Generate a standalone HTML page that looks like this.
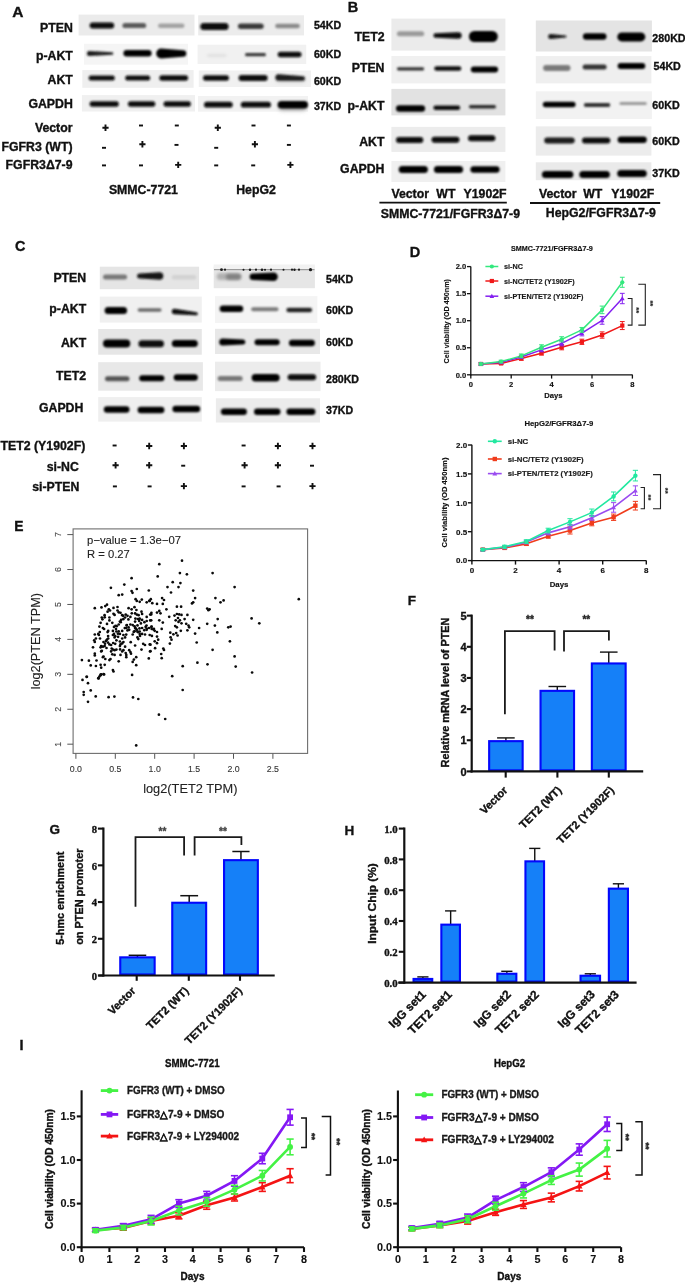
<!DOCTYPE html>
<html><head><meta charset="utf-8"><style>html,body{margin:0;padding:0;background:#fff;width:685px;height:1283px;overflow:hidden}svg{display:block;filter:blur(0.35px)}</style></head><body><svg width="685" height="1283" viewBox="0 0 685 1283">
<defs><filter id="b05" x="-10%" y="-30%" width="120%" height="160%"><feGaussianBlur stdDeviation="0.5"/></filter><filter id="b1" x="-20%" y="-100%" width="140%" height="300%"><feGaussianBlur stdDeviation="1.05"/></filter><filter id="b15" x="-20%" y="-100%" width="140%" height="300%"><feGaussianBlur stdDeviation="1.4"/></filter><filter id="b2" x="-20%" y="-100%" width="140%" height="300%"><feGaussianBlur stdDeviation="2"/></filter><filter id="t03"><feGaussianBlur stdDeviation="0.3"/></filter></defs>
<rect x="0.00" y="0.00" width="685.00" height="1283.00" fill="#fff"/>
<text x="12.30" y="17.05" font-size="15.5" text-anchor="start" font-weight="bold" font-family='"Liberation Sans", sans-serif' fill="#111" stroke="#111" stroke-width="0.35">A</text>
<text x="72.80" y="32.10" font-size="12.3" text-anchor="end" font-weight="bold" font-family='"Liberation Sans", sans-serif' fill="#111" stroke="#111" stroke-width="0.35">PTEN</text>
<text x="72.80" y="59.90" font-size="12.3" text-anchor="end" font-weight="bold" font-family='"Liberation Sans", sans-serif' fill="#111" stroke="#111" stroke-width="0.35">p-AKT</text>
<text x="72.80" y="83.80" font-size="12.3" text-anchor="end" font-weight="bold" font-family='"Liberation Sans", sans-serif' fill="#111" stroke="#111" stroke-width="0.35">AKT</text>
<text x="72.80" y="108.00" font-size="12.3" text-anchor="end" font-weight="bold" font-family='"Liberation Sans", sans-serif' fill="#111" stroke="#111" stroke-width="0.35">GAPDH</text>
<rect x="78.60" y="14.60" width="115.90" height="20.90" fill="#ebebeb" filter="url(#b05)"/>
<path d="M92.60,22.40 L111.20,22.40 A3.00,3.00 0 0 1 111.20,28.40 L92.60,28.40 A3.00,3.00 0 0 1 92.60,22.40 Z" fill="#0c0c0c" filter="url(#b1)"/>
<path d="M125.00,22.90 L143.60,22.90 A2.60,2.60 0 0 1 143.60,28.10 L125.00,28.10 A2.60,2.60 0 0 1 125.00,22.90 Z" fill="#5a5a5a" filter="url(#b1)"/>
<path d="M160.30,23.50 L182.20,23.50 A2.30,2.30 0 0 1 182.20,28.10 L160.30,28.10 A2.30,2.30 0 0 1 160.30,23.50 Z" fill="#a2a2a2" filter="url(#b1)"/>
<rect x="84.00" y="43.80" width="104.00" height="20.90" fill="#f5f5f5" filter="url(#b05)"/>
<path d="M89.40,50.90 L112.05,52.15 A1.25,1.25 0 0 1 112.05,54.65 L89.40,55.90 A2.50,2.50 0 0 1 89.40,50.90 Z" fill="#1a1a1a" filter="url(#b1)"/>
<path d="M126.65,50.05 L148.35,50.05 A3.25,3.25 0 0 1 148.35,56.55 L126.65,56.55 A3.25,3.25 0 0 1 126.65,50.05 Z" fill="#050505" filter="url(#b1)"/>
<path d="M161.20,48.50 L183.05,50.25 A3.25,3.25 0 0 1 183.05,56.75 L161.20,58.50 A5.00,5.00 0 0 1 161.20,48.50 Z" fill="#030303" filter="url(#b1)"/>
<rect x="82.30" y="70.10" width="111.30" height="17.70" fill="#efefef" filter="url(#b05)"/>
<path d="M91.20,75.60 L112.30,75.60 A2.50,2.50 0 0 1 112.30,80.60 L91.20,80.60 A2.50,2.50 0 0 1 91.20,75.60 Z" fill="#0e0e0e" filter="url(#b1)"/>
<path d="M127.70,75.60 L147.70,75.60 A2.50,2.50 0 0 1 147.70,80.60 L127.70,80.60 A2.50,2.50 0 0 1 127.70,75.60 Z" fill="#0e0e0e" filter="url(#b1)"/>
<path d="M162.05,75.35 L185.35,75.35 A2.75,2.75 0 0 1 185.35,80.85 L162.05,80.85 A2.75,2.75 0 0 1 162.05,75.35 Z" fill="#0e0e0e" filter="url(#b1)"/>
<rect x="81.90" y="95.10" width="113.10" height="16.40" fill="#f0f0f0" filter="url(#b05)"/>
<path d="M92.35,101.15 L116.05,101.15 A2.75,2.75 0 0 1 116.05,106.65 L92.35,106.65 A2.75,2.75 0 0 1 92.35,101.15 Z" fill="#0a0a0a" filter="url(#b1)"/>
<path d="M130.65,101.15 L152.55,101.15 A2.75,2.75 0 0 1 152.55,106.65 L130.65,106.65 A2.75,2.75 0 0 1 130.65,101.15 Z" fill="#0a0a0a" filter="url(#b1)"/>
<path d="M166.25,101.15 L188.15,101.15 A2.75,2.75 0 0 1 188.15,106.65 L166.25,106.65 A2.75,2.75 0 0 1 166.25,101.15 Z" fill="#0a0a0a" filter="url(#b1)"/>
<rect x="198.20" y="15.30" width="105.80" height="20.10" fill="#ececec" filter="url(#b05)"/>
<path d="M203.80,23.10 L225.10,23.10 A3.50,3.50 0 0 1 225.10,30.10 L203.80,30.10 A3.50,3.50 0 0 1 203.80,23.10 Z" fill="#080808" filter="url(#b1)"/>
<path d="M240.65,23.55 L260.95,23.55 A2.75,2.75 0 0 1 260.95,29.05 L240.65,29.05 A2.75,2.75 0 0 1 240.65,23.55 Z" fill="#3a3a3a" filter="url(#b1)"/>
<path d="M277.45,23.65 L297.55,23.65 A2.25,2.25 0 0 1 297.55,28.15 L277.45,28.15 A2.25,2.25 0 0 1 277.45,23.65 Z" fill="#8a8a8a" filter="url(#b1)"/>
<rect x="197.60" y="44.70" width="108.60" height="19.30" fill="#f1f1f1" filter="url(#b05)"/>
<path d="M208.25,54.25 L225.25,54.25 A1.25,1.25 0 0 1 225.25,56.75 L208.25,56.75 A1.25,1.25 0 0 1 208.25,54.25 Z" fill="#dcdcdc" filter="url(#b15)"/>
<path d="M246.60,53.10 L264.40,53.10 A1.60,1.60 0 0 1 264.40,56.30 L246.60,56.30 A1.60,1.60 0 0 1 246.60,53.10 Z" fill="#383838" filter="url(#b1)"/>
<path d="M280.45,51.85 L298.75,51.85 A2.75,2.75 0 0 1 298.75,57.35 L280.45,57.35 A2.75,2.75 0 0 1 280.45,51.85 Z" fill="#080808" filter="url(#b1)"/>
<rect x="198.80" y="70.50" width="112.20" height="16.50" fill="#f1f1f1" filter="url(#b05)"/>
<path d="M205.65,75.35 L226.35,75.35 A2.65,2.65 0 0 1 226.35,80.65 L205.65,80.65 A2.65,2.65 0 0 1 205.65,75.35 Z" fill="#0e0e0e" filter="url(#b1)"/>
<path d="M241.50,75.10 L264.80,75.10 A2.90,2.90 0 0 1 264.80,80.90 L241.50,80.90 A2.90,2.90 0 0 1 241.50,75.10 Z" fill="#0e0e0e" filter="url(#b1)"/>
<path d="M278.50,77.00 L302.50,77.00 A2.50,2.50 0 0 1 302.50,82.00 L278.50,82.00 A2.50,2.50 0 0 1 278.50,77.00 Z" fill="#c8c8c8" filter="url(#b2)"/>
<path d="M278.65,74.15 L302.75,76.15 A2.25,2.25 0 0 1 302.75,80.65 L278.65,80.65 A3.25,3.25 0 0 1 278.65,74.15 Z" fill="#1a1a1a" filter="url(#b1)"/>
<rect x="198.00" y="96.00" width="110.00" height="15.70" fill="#f2f2f2" filter="url(#b05)"/>
<path d="M206.90,101.80 L229.80,101.80 A2.90,2.90 0 0 1 229.80,107.60 L206.90,107.60 A2.90,2.90 0 0 1 206.90,101.80 Z" fill="#0a0a0a" filter="url(#b1)"/>
<path d="M243.70,101.80 L268.10,101.80 A2.90,2.90 0 0 1 268.10,107.60 L243.70,107.60 A2.90,2.90 0 0 1 243.70,101.80 Z" fill="#0a0a0a" filter="url(#b1)"/>
<path d="M282.00,104.50 L303.00,104.50 A3.00,3.00 0 0 1 303.00,110.50 L282.00,110.50 A3.00,3.00 0 0 1 282.00,104.50 Z" fill="#b0b0b0" filter="url(#b2)"/>
<path d="M281.35,100.95 L304.25,100.95 A3.75,3.75 0 0 1 304.25,108.45 L281.35,108.45 A3.75,3.75 0 0 1 281.35,100.95 Z" fill="#050505" filter="url(#b1)"/>
<text x="313.90" y="28.80" font-size="10.7" text-anchor="start" font-weight="bold" font-family='"Liberation Sans", sans-serif' fill="#111" textLength="27.2" lengthAdjust="spacingAndGlyphs" stroke="#111" stroke-width="0.35">54KD</text>
<text x="313.90" y="57.70" font-size="10.7" text-anchor="start" font-weight="bold" font-family='"Liberation Sans", sans-serif' fill="#111" textLength="27.2" lengthAdjust="spacingAndGlyphs" stroke="#111" stroke-width="0.35">60KD</text>
<text x="313.90" y="84.70" font-size="10.7" text-anchor="start" font-weight="bold" font-family='"Liberation Sans", sans-serif' fill="#111" textLength="27.2" lengthAdjust="spacingAndGlyphs" stroke="#111" stroke-width="0.35">60KD</text>
<text x="313.90" y="110.00" font-size="10.7" text-anchor="start" font-weight="bold" font-family='"Liberation Sans", sans-serif' fill="#111" textLength="27.2" lengthAdjust="spacingAndGlyphs" stroke="#111" stroke-width="0.35">37KD</text>
<text x="72.50" y="131.80" font-size="12.3" text-anchor="end" font-weight="bold" font-family='"Liberation Sans", sans-serif' fill="#111" stroke="#111" stroke-width="0.35">Vector</text>
<text x="72.50" y="150.80" font-size="12.3" text-anchor="end" font-weight="bold" font-family='"Liberation Sans", sans-serif' fill="#111" stroke="#111" stroke-width="0.35">FGFR3 (WT)</text>
<text x="72.50" y="169.30" font-size="12.3" text-anchor="end" font-weight="bold" font-family='"Liberation Sans", sans-serif' fill="#111" stroke="#111" stroke-width="0.35">FGFR3Δ7-9</text>
<path d="M102.40,126.85h6.2v1.9h-6.2z M104.55,124.60h1.9v6.4h-1.9z" fill="#111"/>
<rect x="139.00" y="124.55" width="4.0" height="1.9" fill="#111"/>
<rect x="174.80" y="124.55" width="4.0" height="1.9" fill="#111"/>
<path d="M214.70,126.75h6.2v1.9h-6.2z M216.85,124.50h1.9v6.4h-1.9z" fill="#111"/>
<rect x="251.50" y="124.55" width="4.0" height="1.9" fill="#111"/>
<rect x="286.90" y="124.55" width="4.0" height="1.9" fill="#111"/>
<rect x="102.00" y="146.85" width="4.0" height="1.9" fill="#111"/>
<path d="M139.30,143.25h6.2v1.9h-6.2z M141.45,141.00h1.9v6.4h-1.9z" fill="#111"/>
<rect x="174.50" y="143.95" width="4.0" height="1.9" fill="#111"/>
<rect x="214.20" y="146.85" width="4.0" height="1.9" fill="#111"/>
<path d="M251.80,143.25h6.2v1.9h-6.2z M253.95,141.00h1.9v6.4h-1.9z" fill="#111"/>
<rect x="286.90" y="143.95" width="4.0" height="1.9" fill="#111"/>
<rect x="102.00" y="164.45" width="4.0" height="1.9" fill="#111"/>
<rect x="139.00" y="164.45" width="4.0" height="1.9" fill="#111"/>
<path d="M175.10,163.95h6.2v1.9h-6.2z M177.25,161.70h1.9v6.4h-1.9z" fill="#111"/>
<rect x="214.20" y="164.45" width="4.0" height="1.9" fill="#111"/>
<rect x="251.20" y="164.45" width="4.0" height="1.9" fill="#111"/>
<path d="M287.30,163.95h6.2v1.9h-6.2z M289.45,161.70h1.9v6.4h-1.9z" fill="#111"/>
<text x="143.40" y="193.80" font-size="12.3" text-anchor="middle" font-weight="bold" font-family='"Liberation Sans", sans-serif' fill="#111" stroke="#111" stroke-width="0.35">SMMC-7721</text>
<text x="256.00" y="193.80" font-size="12.3" text-anchor="middle" font-weight="bold" font-family='"Liberation Sans", sans-serif' fill="#111" stroke="#111" stroke-width="0.35">HepG2</text>
<text x="347.80" y="11.49" font-size="14.5" text-anchor="start" font-weight="bold" font-family='"Liberation Sans", sans-serif' fill="#111" stroke="#111" stroke-width="0.35">B</text>
<text x="384.50" y="41.20" font-size="12.3" text-anchor="end" font-weight="bold" font-family='"Liberation Sans", sans-serif' fill="#111" stroke="#111" stroke-width="0.35">TET2</text>
<text x="384.50" y="71.60" font-size="12.3" text-anchor="end" font-weight="bold" font-family='"Liberation Sans", sans-serif' fill="#111" stroke="#111" stroke-width="0.35">PTEN</text>
<text x="384.50" y="109.90" font-size="12.3" text-anchor="end" font-weight="bold" font-family='"Liberation Sans", sans-serif' fill="#111" stroke="#111" stroke-width="0.35">p-AKT</text>
<text x="384.50" y="145.70" font-size="12.3" text-anchor="end" font-weight="bold" font-family='"Liberation Sans", sans-serif' fill="#111" stroke="#111" stroke-width="0.35">AKT</text>
<text x="384.50" y="173.20" font-size="12.3" text-anchor="end" font-weight="bold" font-family='"Liberation Sans", sans-serif' fill="#111" stroke="#111" stroke-width="0.35">GAPDH</text>
<rect x="391.40" y="18.60" width="114.00" height="32.00" fill="#ebebeb" filter="url(#b05)"/>
<path d="M399.40,31.30 L421.70,31.30 A2.50,2.50 0 0 1 421.70,36.30 L399.40,36.30 A2.50,2.50 0 0 1 399.40,31.30 Z" fill="#9a9a9a" filter="url(#b1)"/>
<path d="M435.65,33.35 L458.35,32.35 A3.25,3.25 0 0 1 458.35,38.85 L435.65,37.85 A2.25,2.25 0 0 1 435.65,33.35 Z" fill="#0a0a0a" filter="url(#b1)"/>
<path d="M474.40,31.00 L492.30,31.00 A5.50,5.50 0 0 1 492.30,42.00 L474.40,42.00 A5.50,5.50 0 0 1 474.40,31.00 Z" fill="#030303" filter="url(#b1)"/>
<rect x="391.40" y="56.00" width="114.00" height="27.40" fill="#f0f0f0" filter="url(#b05)"/>
<path d="M398.50,67.20 L422.60,67.20 A1.60,1.60 0 0 1 422.60,70.40 L398.50,70.40 A1.60,1.60 0 0 1 398.50,67.20 Z" fill="#333" filter="url(#b1)"/>
<path d="M436.55,66.25 L459.05,66.25 A2.25,2.25 0 0 1 459.05,70.75 L436.55,70.75 A2.25,2.25 0 0 1 436.55,66.25 Z" fill="#111" filter="url(#b1)"/>
<path d="M473.80,66.40 L495.10,66.40 A3.00,3.00 0 0 1 495.10,72.40 L473.80,72.40 A3.00,3.00 0 0 1 473.80,66.40 Z" fill="#050505" filter="url(#b1)"/>
<rect x="391.40" y="88.90" width="114.00" height="26.50" fill="#e2e2e2" filter="url(#b05)"/>
<path d="M399.25,105.15 L421.85,105.15 A3.25,3.25 0 0 1 421.85,111.65 L399.25,111.65 A3.25,3.25 0 0 1 399.25,105.15 Z" fill="#050505" filter="url(#b1)"/>
<path d="M435.65,105.45 L457.95,105.45 A2.25,2.25 0 0 1 457.95,109.95 L435.65,109.95 A2.25,2.25 0 0 1 435.65,105.45 Z" fill="#111" filter="url(#b1)"/>
<path d="M470.65,105.05 L494.25,105.05 A1.75,1.75 0 0 1 494.25,108.55 L470.65,108.55 A1.75,1.75 0 0 1 470.65,105.05 Z" fill="#2a2a2a" filter="url(#b1)"/>
<rect x="391.40" y="126.90" width="114.00" height="25.00" fill="#ececec" filter="url(#b05)"/>
<path d="M399.00,137.00 L420.30,137.00 A3.00,3.00 0 0 1 420.30,143.00 L399.00,143.00 A3.00,3.00 0 0 1 399.00,137.00 Z" fill="#080808" filter="url(#b1)"/>
<path d="M434.50,136.70 L456.50,136.70 A3.00,3.00 0 0 1 456.50,142.70 L434.50,142.70 A3.00,3.00 0 0 1 434.50,136.70 Z" fill="#080808" filter="url(#b1)"/>
<path d="M471.00,135.20 L492.40,135.20 A3.00,3.00 0 0 1 492.40,141.20 L471.00,141.20 A3.00,3.00 0 0 1 471.00,135.20 Z" fill="#080808" filter="url(#b1)"/>
<rect x="391.40" y="161.00" width="114.00" height="21.00" fill="#f0f0f0" filter="url(#b05)"/>
<path d="M402.20,166.10 L424.40,166.10 A3.50,3.50 0 0 1 424.40,173.10 L402.20,173.10 A3.50,3.50 0 0 1 402.20,166.10 Z" fill="#050505" filter="url(#b1)"/>
<path d="M437.40,166.10 L459.60,166.10 A3.50,3.50 0 0 1 459.60,173.10 L437.40,173.10 A3.50,3.50 0 0 1 437.40,166.10 Z" fill="#050505" filter="url(#b1)"/>
<path d="M473.65,166.35 L496.35,166.35 A3.25,3.25 0 0 1 496.35,172.85 L473.65,172.85 A3.25,3.25 0 0 1 473.65,166.35 Z" fill="#050505" filter="url(#b1)"/>
<rect x="535.80" y="20.50" width="116.10" height="31.00" fill="#e4e4e4" filter="url(#b05)"/>
<path d="M550.70,34.00 L565.40,35.40 A1.10,1.10 0 0 1 565.40,37.60 L550.70,39.00 A2.50,2.50 0 0 1 550.70,34.00 Z" fill="#161616" filter="url(#b1)"/>
<path d="M586.15,33.25 L603.25,33.25 A3.25,3.25 0 0 1 603.25,39.75 L586.15,39.75 A3.25,3.25 0 0 1 586.15,33.25 Z" fill="#050505" filter="url(#b1)"/>
<path d="M621.80,32.40 L640.80,32.40 A4.50,4.50 0 0 1 640.80,41.40 L621.80,41.40 A4.50,4.50 0 0 1 621.80,32.40 Z" fill="#030303" filter="url(#b1)"/>
<rect x="535.80" y="56.10" width="115.60" height="27.30" fill="#efefef" filter="url(#b05)"/>
<path d="M546.10,64.90 L567.50,64.90 A3.00,3.00 0 0 1 567.50,70.90 L546.10,70.90 A3.00,3.00 0 0 1 546.10,64.90 Z" fill="#7a7a7a" filter="url(#b1)"/>
<path d="M585.10,64.50 L604.10,64.50 A2.50,2.50 0 0 1 604.10,69.50 L585.10,69.50 A2.50,2.50 0 0 1 585.10,64.50 Z" fill="#333" filter="url(#b1)"/>
<path d="M620.60,63.10 L642.30,63.10 A3.00,3.00 0 0 1 642.30,69.10 L620.60,69.10 A3.00,3.00 0 0 1 620.60,63.10 Z" fill="#050505" filter="url(#b1)"/>
<rect x="535.80" y="91.30" width="116.10" height="27.70" fill="#f2f2f2" filter="url(#b05)"/>
<path d="M545.55,101.65 L572.85,101.65 A2.75,2.75 0 0 1 572.85,107.15 L545.55,107.15 A2.75,2.75 0 0 1 545.55,101.65 Z" fill="#050505" filter="url(#b1)"/>
<path d="M585.80,103.00 L608.30,103.00 A2.00,2.00 0 0 1 608.30,107.00 L585.80,107.00 A2.00,2.00 0 0 1 585.80,103.00 Z" fill="#333" filter="url(#b1)"/>
<path d="M620.90,102.00 L645.30,102.00 A1.50,1.50 0 0 1 645.30,105.00 L620.90,105.00 A1.50,1.50 0 0 1 620.90,102.00 Z" fill="#999" filter="url(#b1)"/>
<rect x="535.80" y="126.40" width="115.60" height="29.20" fill="#ececec" filter="url(#b05)"/>
<path d="M547.20,137.40 L571.70,137.40 A3.00,3.00 0 0 1 571.70,143.40 L547.20,143.40 A3.00,3.00 0 0 1 547.20,137.40 Z" fill="#1a1a1a" filter="url(#b1)"/>
<path d="M585.00,137.40 L607.30,137.40 A3.00,3.00 0 0 1 607.30,143.40 L585.00,143.40 A3.00,3.00 0 0 1 585.00,137.40 Z" fill="#111" filter="url(#b1)"/>
<path d="M620.85,136.45 L643.55,136.45 A3.25,3.25 0 0 1 643.55,142.95 L620.85,142.95 A3.25,3.25 0 0 1 620.85,136.45 Z" fill="#050505" filter="url(#b1)"/>
<rect x="535.80" y="162.30" width="115.60" height="17.90" fill="#eaeaea" filter="url(#b05)"/>
<path d="M545.40,170.90 L569.90,170.90 A3.50,3.50 0 0 1 569.90,177.90 L545.40,177.90 A3.50,3.50 0 0 1 545.40,170.90 Z" fill="#050505" filter="url(#b1)"/>
<path d="M582.80,170.90 L606.40,170.90 A3.50,3.50 0 0 1 606.40,177.90 L582.80,177.90 A3.50,3.50 0 0 1 582.80,170.90 Z" fill="#050505" filter="url(#b1)"/>
<path d="M620.70,170.00 L643.30,170.00 A3.50,3.50 0 0 1 643.30,177.00 L620.70,177.00 A3.50,3.50 0 0 1 620.70,170.00 Z" fill="#050505" filter="url(#b1)"/>
<text x="652.30" y="41.83" font-size="10.7" text-anchor="start" font-weight="bold" font-family='"Liberation Sans", sans-serif' fill="#111" stroke="#111" stroke-width="0.35">280KD</text>
<text x="653.50" y="70.13" font-size="10.7" text-anchor="start" font-weight="bold" font-family='"Liberation Sans", sans-serif' fill="#111" stroke="#111" stroke-width="0.35">54KD</text>
<text x="652.30" y="109.13" font-size="10.7" text-anchor="start" font-weight="bold" font-family='"Liberation Sans", sans-serif' fill="#111" stroke="#111" stroke-width="0.35">60KD</text>
<text x="652.30" y="144.83" font-size="10.7" text-anchor="start" font-weight="bold" font-family='"Liberation Sans", sans-serif' fill="#111" stroke="#111" stroke-width="0.35">60KD</text>
<text x="652.30" y="176.63" font-size="10.7" text-anchor="start" font-weight="bold" font-family='"Liberation Sans", sans-serif' fill="#111" stroke="#111" stroke-width="0.35">37KD</text>
<text x="410.20" y="197.70" font-size="12.3" text-anchor="middle" font-weight="bold" font-family='"Liberation Sans", sans-serif' fill="#111" stroke="#111" stroke-width="0.35">Vector</text>
<text x="445.90" y="197.70" font-size="12.3" text-anchor="middle" font-weight="bold" font-family='"Liberation Sans", sans-serif' fill="#111" stroke="#111" stroke-width="0.35">WT</text>
<text x="485.10" y="197.70" font-size="12.3" text-anchor="middle" font-weight="bold" font-family='"Liberation Sans", sans-serif' fill="#111" stroke="#111" stroke-width="0.35">Y1902F</text>
<text x="557.80" y="197.70" font-size="12.3" text-anchor="middle" font-weight="bold" font-family='"Liberation Sans", sans-serif' fill="#111" stroke="#111" stroke-width="0.35">Vector</text>
<text x="592.80" y="197.70" font-size="12.3" text-anchor="middle" font-weight="bold" font-family='"Liberation Sans", sans-serif' fill="#111" stroke="#111" stroke-width="0.35">WT</text>
<text x="632.70" y="197.70" font-size="12.3" text-anchor="middle" font-weight="bold" font-family='"Liberation Sans", sans-serif' fill="#111" stroke="#111" stroke-width="0.35">Y1902F</text>
<line x1="379.40" y1="202.60" x2="506.80" y2="202.60" stroke="#111" stroke-width="1.8"/>
<line x1="530.00" y1="203.00" x2="660.20" y2="203.00" stroke="#111" stroke-width="1.8"/>
<text x="380.70" y="217.90" font-size="12.3" text-anchor="start" font-weight="bold" font-family='"Liberation Sans", sans-serif' fill="#111" stroke="#111" stroke-width="0.35">SMMC-7721/FGFR3Δ7-9</text>
<text x="545.80" y="216.80" font-size="12.3" text-anchor="start" font-weight="bold" font-family='"Liberation Sans", sans-serif' fill="#111" stroke="#111" stroke-width="0.35">HepG2/FGFR3Δ7-9</text>
<text x="15.00" y="251.36" font-size="14.4" text-anchor="start" font-weight="bold" font-family='"Liberation Sans", sans-serif' fill="#111" stroke="#111" stroke-width="0.35">C</text>
<text x="86.20" y="281.60" font-size="12.3" text-anchor="end" font-weight="bold" font-family='"Liberation Sans", sans-serif' fill="#111" stroke="#111" stroke-width="0.35">PTEN</text>
<text x="86.20" y="313.40" font-size="12.3" text-anchor="end" font-weight="bold" font-family='"Liberation Sans", sans-serif' fill="#111" stroke="#111" stroke-width="0.35">p-AKT</text>
<text x="86.20" y="346.80" font-size="12.3" text-anchor="end" font-weight="bold" font-family='"Liberation Sans", sans-serif' fill="#111" stroke="#111" stroke-width="0.35">AKT</text>
<text x="86.20" y="380.30" font-size="12.3" text-anchor="end" font-weight="bold" font-family='"Liberation Sans", sans-serif' fill="#111" stroke="#111" stroke-width="0.35">TET2</text>
<text x="83.40" y="412.10" font-size="12.3" text-anchor="end" font-weight="bold" font-family='"Liberation Sans", sans-serif' fill="#111" stroke="#111" stroke-width="0.35">GAPDH</text>
<rect x="99.80" y="266.70" width="99.30" height="22.50" fill="#e5e5e5" filter="url(#b05)"/>
<path d="M105.50,274.40 L124.60,274.40 A2.50,2.50 0 0 1 124.60,279.40 L105.50,279.40 A2.50,2.50 0 0 1 105.50,274.40 Z" fill="#777" filter="url(#b1)"/>
<path d="M139.60,273.60 L159.55,272.35 A3.75,3.75 0 0 1 159.55,279.85 L139.60,278.60 A2.50,2.50 0 0 1 139.60,273.60 Z" fill="#151515" filter="url(#b1)"/>
<path d="M174.05,275.05 L193.95,275.05 A2.25,2.25 0 0 1 193.95,279.55 L174.05,279.55 A2.25,2.25 0 0 1 174.05,275.05 Z" fill="#d2d2d2" filter="url(#b1)"/>
<rect x="99.80" y="296.60" width="102.00" height="26.00" fill="#f0f0f0" filter="url(#b05)"/>
<path d="M108.10,307.10 L123.60,307.10 A3.50,3.50 0 0 1 123.60,314.10 L108.10,314.10 A3.50,3.50 0 0 1 108.10,307.10 Z" fill="#030303" filter="url(#b1)"/>
<path d="M139.35,308.35 L159.85,308.35 A1.75,1.75 0 0 1 159.85,311.85 L139.35,311.85 A1.75,1.75 0 0 1 139.35,308.35 Z" fill="#6a6a6a" filter="url(#b1)"/>
<path d="M174.55,308.65 L196.30,312.30 A1.50,1.50 0 0 1 196.30,315.30 L174.55,314.15 A2.75,2.75 0 0 1 174.55,308.65 Z" fill="#080808" filter="url(#b1)"/>
<rect x="98.20" y="329.00" width="103.60" height="25.70" fill="#e6e6e6" filter="url(#b05)"/>
<path d="M107.00,339.50 L126.30,339.50 A4.00,4.00 0 0 1 126.30,347.50 L107.00,347.50 A4.00,4.00 0 0 1 107.00,339.50 Z" fill="#030303" filter="url(#b1)"/>
<path d="M141.90,340.30 L160.50,340.30 A3.50,3.50 0 0 1 160.50,347.30 L141.90,347.30 A3.50,3.50 0 0 1 141.90,340.30 Z" fill="#111" filter="url(#b1)"/>
<path d="M175.30,340.00 L194.30,340.00 A3.50,3.50 0 0 1 194.30,347.00 L175.30,347.00 A3.50,3.50 0 0 1 175.30,340.00 Z" fill="#050505" filter="url(#b1)"/>
<rect x="98.20" y="362.20" width="104.70" height="28.50" fill="#e8e8e8" filter="url(#b05)"/>
<path d="M107.50,376.30 L127.00,376.30 A2.50,2.50 0 0 1 127.00,381.30 L107.50,381.30 A2.50,2.50 0 0 1 107.50,376.30 Z" fill="#555" filter="url(#b1)"/>
<path d="M142.20,375.30 L161.40,375.30 A3.00,3.00 0 0 1 161.40,381.30 L142.20,381.30 A3.00,3.00 0 0 1 142.20,375.30 Z" fill="#050505" filter="url(#b1)"/>
<path d="M176.95,374.25 L194.55,374.25 A3.25,3.25 0 0 1 194.55,380.75 L176.95,380.75 A3.25,3.25 0 0 1 176.95,374.25 Z" fill="#050505" filter="url(#b1)"/>
<rect x="98.20" y="397.10" width="103.60" height="24.50" fill="#efefef" filter="url(#b05)"/>
<path d="M107.05,406.35 L126.25,406.35 A3.25,3.25 0 0 1 126.25,412.85 L107.05,412.85 A3.25,3.25 0 0 1 107.05,406.35 Z" fill="#050505" filter="url(#b1)"/>
<path d="M140.85,406.75 L161.15,406.75 A3.25,3.25 0 0 1 161.15,413.25 L140.85,413.25 A3.25,3.25 0 0 1 140.85,406.75 Z" fill="#050505" filter="url(#b1)"/>
<path d="M175.65,405.75 L196.95,405.75 A3.25,3.25 0 0 1 196.95,412.25 L175.65,412.25 A3.25,3.25 0 0 1 175.65,405.75 Z" fill="#050505" filter="url(#b1)"/>
<rect x="213.70" y="266.50" width="101.20" height="21.70" fill="#e6e6e6" filter="url(#b05)"/>
<rect x="213.7" y="264.5" width="101.2" height="4.5" fill="#f2f2f2" filter="url(#b05)"/>
<rect x="214" y="269.2" width="100.5" height="1.0" fill="#8a8a8a" filter="url(#b05)"/>
<circle cx="221.5" cy="269.7" r="1.4" fill="#1a1a1a" filter="url(#b05)"/>
<circle cx="225" cy="269.7" r="1.1" fill="#1a1a1a" filter="url(#b05)"/>
<circle cx="243.5" cy="269.7" r="1.0" fill="#1a1a1a" filter="url(#b05)"/>
<circle cx="250" cy="269.7" r="1.2" fill="#1a1a1a" filter="url(#b05)"/>
<circle cx="256" cy="269.7" r="1.1" fill="#1a1a1a" filter="url(#b05)"/>
<circle cx="262" cy="269.7" r="1.3" fill="#1a1a1a" filter="url(#b05)"/>
<circle cx="265" cy="269.7" r="1.0" fill="#1a1a1a" filter="url(#b05)"/>
<circle cx="271" cy="269.7" r="1.1" fill="#1a1a1a" filter="url(#b05)"/>
<circle cx="283.5" cy="269.7" r="1.0" fill="#1a1a1a" filter="url(#b05)"/>
<circle cx="292" cy="269.7" r="1.1" fill="#1a1a1a" filter="url(#b05)"/>
<circle cx="294.5" cy="269.7" r="1.2" fill="#1a1a1a" filter="url(#b05)"/>
<circle cx="299" cy="269.7" r="1.1" fill="#1a1a1a" filter="url(#b05)"/>
<circle cx="310.5" cy="269.7" r="1.6" fill="#1a1a1a" filter="url(#b05)"/>
<path d="M220.20,273.00 L237.50,273.00 A3.50,3.50 0 0 1 237.50,280.00 L220.20,280.00 A3.50,3.50 0 0 1 220.20,273.00 Z" fill="#b0b0b0" filter="url(#b15)"/>
<path d="M228.75,274.05 L238.25,274.05 A2.75,2.75 0 0 1 238.25,279.55 L228.75,279.55 A2.75,2.75 0 0 1 228.75,274.05 Z" fill="#808080" filter="url(#b15)"/>
<path d="M252.85,273.55 L273.55,272.55 A4.25,4.25 0 0 1 273.55,281.05 L252.85,280.05 A3.25,3.25 0 0 1 252.85,273.55 Z" fill="#050505" filter="url(#b1)"/>
<rect x="215.00" y="296.10" width="102.40" height="26.90" fill="#f4f4f4" filter="url(#b05)"/>
<path d="M222.95,305.45 L239.95,305.45 A3.25,3.25 0 0 1 239.95,311.95 L222.95,311.95 A3.25,3.25 0 0 1 222.95,305.45 Z" fill="#030303" filter="url(#b1)"/>
<path d="M253.10,307.20 L276.50,307.20 A2.00,2.00 0 0 1 276.50,311.20 L253.10,311.20 A2.00,2.00 0 0 1 253.10,307.20 Z" fill="#7a7a7a" filter="url(#b1)"/>
<path d="M288.65,307.75 L309.85,307.75 A2.25,2.25 0 0 1 309.85,312.25 L288.65,312.25 A2.25,2.25 0 0 1 288.65,307.75 Z" fill="#222" filter="url(#b1)"/>
<rect x="215.00" y="328.80" width="105.00" height="25.20" fill="#e8e8e8" filter="url(#b05)"/>
<path d="M222.70,338.40 L242.80,339.40 A2.50,2.50 0 0 1 242.80,344.40 L222.70,345.40 A3.50,3.50 0 0 1 222.70,338.40 Z" fill="#050505" filter="url(#b1)"/>
<path d="M257.50,339.30 L276.70,339.30 A3.00,3.00 0 0 1 276.70,345.30 L257.50,345.30 A3.00,3.00 0 0 1 257.50,339.30 Z" fill="#050505" filter="url(#b1)"/>
<path d="M292.15,339.85 L311.65,339.85 A3.25,3.25 0 0 1 311.65,346.35 L292.15,346.35 A3.25,3.25 0 0 1 292.15,339.85 Z" fill="#050505" filter="url(#b1)"/>
<rect x="215.00" y="361.70" width="105.50" height="29.40" fill="#ececec" filter="url(#b05)"/>
<path d="M220.10,376.00 L240.20,376.00 A2.50,2.50 0 0 1 240.20,381.00 L220.10,381.00 A2.50,2.50 0 0 1 220.10,376.00 Z" fill="#777" filter="url(#b1)"/>
<path d="M255.35,373.95 L275.95,373.95 A3.75,3.75 0 0 1 275.95,381.45 L255.35,381.45 A3.75,3.75 0 0 1 255.35,373.95 Z" fill="#030303" filter="url(#b1)"/>
<path d="M290.60,374.20 L313.10,374.20 A3.00,3.00 0 0 1 313.10,380.20 L290.60,380.20 A3.00,3.00 0 0 1 290.60,374.20 Z" fill="#080808" filter="url(#b1)"/>
<rect x="215.90" y="398.30" width="104.10" height="24.20" fill="#ececec" filter="url(#b05)"/>
<path d="M224.15,408.45 L243.65,408.45 A3.25,3.25 0 0 1 243.65,414.95 L224.15,414.95 A3.25,3.25 0 0 1 224.15,408.45 Z" fill="#050505" filter="url(#b1)"/>
<path d="M257.25,408.45 L277.25,408.45 A3.25,3.25 0 0 1 277.25,414.95 L257.25,414.95 A3.25,3.25 0 0 1 257.25,408.45 Z" fill="#050505" filter="url(#b1)"/>
<path d="M289.65,408.45 L312.15,408.45 A3.25,3.25 0 0 1 312.15,414.95 L289.65,414.95 A3.25,3.25 0 0 1 289.65,408.45 Z" fill="#050505" filter="url(#b1)"/>
<text x="326.00" y="283.39" font-size="10.6" text-anchor="start" font-weight="bold" font-family='"Liberation Sans", sans-serif' fill="#111" stroke="#111" stroke-width="0.35">54KD</text>
<text x="326.00" y="314.29" font-size="10.6" text-anchor="start" font-weight="bold" font-family='"Liberation Sans", sans-serif' fill="#111" stroke="#111" stroke-width="0.35">60KD</text>
<text x="326.00" y="346.49" font-size="10.6" text-anchor="start" font-weight="bold" font-family='"Liberation Sans", sans-serif' fill="#111" stroke="#111" stroke-width="0.35">60KD</text>
<text x="326.00" y="382.99" font-size="10.6" text-anchor="start" font-weight="bold" font-family='"Liberation Sans", sans-serif' fill="#111" stroke="#111" stroke-width="0.35">280KD</text>
<text x="326.00" y="413.69" font-size="10.6" text-anchor="start" font-weight="bold" font-family='"Liberation Sans", sans-serif' fill="#111" stroke="#111" stroke-width="0.35">37KD</text>
<text x="85.30" y="450.20" font-size="12.3" text-anchor="end" font-weight="bold" font-family='"Liberation Sans", sans-serif' fill="#111" stroke="#111" stroke-width="0.35">TET2 (Y1902F)</text>
<text x="78.80" y="470.60" font-size="12.3" text-anchor="end" font-weight="bold" font-family='"Liberation Sans", sans-serif' fill="#111" stroke="#111" stroke-width="0.35">si-NC</text>
<text x="79.40" y="490.70" font-size="12.3" text-anchor="end" font-weight="bold" font-family='"Liberation Sans", sans-serif' fill="#111" stroke="#111" stroke-width="0.35">si-PTEN</text>
<rect x="112.60" y="444.55" width="4.0" height="1.9" fill="#111"/>
<path d="M146.10,445.05h6.2v1.9h-6.2z M148.25,442.80h1.9v6.4h-1.9z" fill="#111"/>
<path d="M180.80,445.05h6.2v1.9h-6.2z M182.95,442.80h1.9v6.4h-1.9z" fill="#111"/>
<rect x="241.60" y="444.55" width="4.0" height="1.9" fill="#111"/>
<path d="M274.80,445.05h6.2v1.9h-6.2z M276.95,442.80h1.9v6.4h-1.9z" fill="#111"/>
<path d="M309.40,445.05h6.2v1.9h-6.2z M311.55,442.80h1.9v6.4h-1.9z" fill="#111"/>
<path d="M112.50,464.25h6.2v1.9h-6.2z M114.65,462.00h1.9v6.4h-1.9z" fill="#111"/>
<path d="M146.10,464.25h6.2v1.9h-6.2z M148.25,462.00h1.9v6.4h-1.9z" fill="#111"/>
<rect x="181.20" y="464.75" width="4.0" height="1.9" fill="#111"/>
<path d="M241.50,464.25h6.2v1.9h-6.2z M243.65,462.00h1.9v6.4h-1.9z" fill="#111"/>
<path d="M274.80,464.25h6.2v1.9h-6.2z M276.95,462.00h1.9v6.4h-1.9z" fill="#111"/>
<rect x="310.00" y="464.75" width="4.0" height="1.9" fill="#111"/>
<rect x="112.90" y="485.45" width="4.0" height="1.9" fill="#111"/>
<rect x="147.60" y="485.45" width="4.0" height="1.9" fill="#111"/>
<path d="M180.80,485.15h6.2v1.9h-6.2z M182.95,482.90h1.9v6.4h-1.9z" fill="#111"/>
<rect x="241.60" y="485.45" width="4.0" height="1.9" fill="#111"/>
<rect x="276.60" y="485.45" width="4.0" height="1.9" fill="#111"/>
<path d="M309.40,485.15h6.2v1.9h-6.2z M311.55,482.90h1.9v6.4h-1.9z" fill="#111"/>
<text x="409.80" y="256.69" font-size="14.5" text-anchor="start" font-weight="bold" font-family='"Liberation Sans", sans-serif' fill="#111" stroke="#111" stroke-width="0.35">D</text>
<text x="510.90" y="250.60" font-size="7.5" text-anchor="start" font-weight="bold" font-family='"Liberation Sans", sans-serif' fill="#111" textLength="82" lengthAdjust="spacingAndGlyphs" stroke="#111" stroke-width="0.15">SMMC-7721/FGFR3Δ7-9</text>
<polyline points="480.90,363.98 501.10,363.44 521.30,358.57 541.50,353.16 561.70,347.21 581.90,341.80 602.10,335.04 622.30,325.57" fill="none" stroke="#f01818" stroke-width="1.5" stroke-linejoin="round"/>
<polyline points="480.90,363.98 501.10,362.36 521.30,356.95 541.50,349.91 561.70,343.42 581.90,333.14 602.10,320.43 622.30,298.52" fill="none" stroke="#8420f0" stroke-width="1.5" stroke-linejoin="round"/>
<polyline points="480.90,363.98 501.10,361.55 521.30,355.87 541.50,347.21 561.70,339.31 581.90,329.90 602.10,309.88 622.30,282.29" fill="none" stroke="#33e87e" stroke-width="1.5" stroke-linejoin="round"/>
<line x1="480.90" y1="362.90" x2="480.90" y2="365.06" stroke="#f01818" stroke-width="1.0"/>
<line x1="478.50" y1="362.90" x2="483.30" y2="362.90" stroke="#f01818" stroke-width="1.0"/>
<line x1="478.50" y1="365.06" x2="483.30" y2="365.06" stroke="#f01818" stroke-width="1.0"/>
<rect x="478.80" y="361.88" width="4.20" height="4.20" fill="#f01818"/>
<line x1="501.10" y1="362.36" x2="501.10" y2="364.52" stroke="#f01818" stroke-width="1.0"/>
<line x1="498.70" y1="362.36" x2="503.50" y2="362.36" stroke="#f01818" stroke-width="1.0"/>
<line x1="498.70" y1="364.52" x2="503.50" y2="364.52" stroke="#f01818" stroke-width="1.0"/>
<rect x="499.00" y="361.34" width="4.20" height="4.20" fill="#f01818"/>
<line x1="521.30" y1="356.95" x2="521.30" y2="360.19" stroke="#f01818" stroke-width="1.0"/>
<line x1="518.90" y1="356.95" x2="523.70" y2="356.95" stroke="#f01818" stroke-width="1.0"/>
<line x1="518.90" y1="360.19" x2="523.70" y2="360.19" stroke="#f01818" stroke-width="1.0"/>
<rect x="519.20" y="356.47" width="4.20" height="4.20" fill="#f01818"/>
<line x1="541.50" y1="351.27" x2="541.50" y2="355.05" stroke="#f01818" stroke-width="1.0"/>
<line x1="539.10" y1="351.27" x2="543.90" y2="351.27" stroke="#f01818" stroke-width="1.0"/>
<line x1="539.10" y1="355.05" x2="543.90" y2="355.05" stroke="#f01818" stroke-width="1.0"/>
<rect x="539.40" y="351.06" width="4.20" height="4.20" fill="#f01818"/>
<line x1="561.70" y1="344.61" x2="561.70" y2="349.81" stroke="#f01818" stroke-width="1.0"/>
<line x1="559.30" y1="344.61" x2="564.10" y2="344.61" stroke="#f01818" stroke-width="1.0"/>
<line x1="559.30" y1="349.81" x2="564.10" y2="349.81" stroke="#f01818" stroke-width="1.0"/>
<rect x="559.60" y="345.11" width="4.20" height="4.20" fill="#f01818"/>
<line x1="581.90" y1="339.20" x2="581.90" y2="344.40" stroke="#f01818" stroke-width="1.0"/>
<line x1="579.50" y1="339.20" x2="584.30" y2="339.20" stroke="#f01818" stroke-width="1.0"/>
<line x1="579.50" y1="344.40" x2="584.30" y2="344.40" stroke="#f01818" stroke-width="1.0"/>
<rect x="579.80" y="339.70" width="4.20" height="4.20" fill="#f01818"/>
<line x1="602.10" y1="331.90" x2="602.10" y2="338.17" stroke="#f01818" stroke-width="1.0"/>
<line x1="599.70" y1="331.90" x2="604.50" y2="331.90" stroke="#f01818" stroke-width="1.0"/>
<line x1="599.70" y1="338.17" x2="604.50" y2="338.17" stroke="#f01818" stroke-width="1.0"/>
<rect x="600.00" y="332.94" width="4.20" height="4.20" fill="#f01818"/>
<line x1="622.30" y1="321.57" x2="622.30" y2="329.57" stroke="#f01818" stroke-width="1.0"/>
<line x1="619.90" y1="321.57" x2="624.70" y2="321.57" stroke="#f01818" stroke-width="1.0"/>
<line x1="619.90" y1="329.57" x2="624.70" y2="329.57" stroke="#f01818" stroke-width="1.0"/>
<rect x="620.20" y="323.47" width="4.20" height="4.20" fill="#f01818"/>
<line x1="480.90" y1="362.90" x2="480.90" y2="365.06" stroke="#8420f0" stroke-width="1.0"/>
<line x1="478.50" y1="362.90" x2="483.30" y2="362.90" stroke="#8420f0" stroke-width="1.0"/>
<line x1="478.50" y1="365.06" x2="483.30" y2="365.06" stroke="#8420f0" stroke-width="1.0"/>
<path d="M480.90,361.56 L483.21,365.77 L478.59,365.77 Z" fill="#8420f0"/>
<line x1="501.10" y1="361.28" x2="501.10" y2="363.44" stroke="#8420f0" stroke-width="1.0"/>
<line x1="498.70" y1="361.28" x2="503.50" y2="361.28" stroke="#8420f0" stroke-width="1.0"/>
<line x1="498.70" y1="363.44" x2="503.50" y2="363.44" stroke="#8420f0" stroke-width="1.0"/>
<path d="M501.10,359.94 L503.41,364.14 L498.79,364.14 Z" fill="#8420f0"/>
<line x1="521.30" y1="355.32" x2="521.30" y2="358.57" stroke="#8420f0" stroke-width="1.0"/>
<line x1="518.90" y1="355.32" x2="523.70" y2="355.32" stroke="#8420f0" stroke-width="1.0"/>
<line x1="518.90" y1="358.57" x2="523.70" y2="358.57" stroke="#8420f0" stroke-width="1.0"/>
<path d="M521.30,354.53 L523.61,358.73 L518.99,358.73 Z" fill="#8420f0"/>
<line x1="541.50" y1="348.02" x2="541.50" y2="351.81" stroke="#8420f0" stroke-width="1.0"/>
<line x1="539.10" y1="348.02" x2="543.90" y2="348.02" stroke="#8420f0" stroke-width="1.0"/>
<line x1="539.10" y1="351.81" x2="543.90" y2="351.81" stroke="#8420f0" stroke-width="1.0"/>
<path d="M541.50,347.50 L543.81,351.70 L539.19,351.70 Z" fill="#8420f0"/>
<line x1="561.70" y1="340.99" x2="561.70" y2="345.86" stroke="#8420f0" stroke-width="1.0"/>
<line x1="559.30" y1="340.99" x2="564.10" y2="340.99" stroke="#8420f0" stroke-width="1.0"/>
<line x1="559.30" y1="345.86" x2="564.10" y2="345.86" stroke="#8420f0" stroke-width="1.0"/>
<path d="M561.70,341.01 L564.01,345.21 L559.39,345.21 Z" fill="#8420f0"/>
<line x1="581.90" y1="330.44" x2="581.90" y2="335.85" stroke="#8420f0" stroke-width="1.0"/>
<line x1="579.50" y1="330.44" x2="584.30" y2="330.44" stroke="#8420f0" stroke-width="1.0"/>
<line x1="579.50" y1="335.85" x2="584.30" y2="335.85" stroke="#8420f0" stroke-width="1.0"/>
<path d="M581.90,330.73 L584.21,334.93 L579.59,334.93 Z" fill="#8420f0"/>
<line x1="602.10" y1="316.64" x2="602.10" y2="324.22" stroke="#8420f0" stroke-width="1.0"/>
<line x1="599.70" y1="316.64" x2="604.50" y2="316.64" stroke="#8420f0" stroke-width="1.0"/>
<line x1="599.70" y1="324.22" x2="604.50" y2="324.22" stroke="#8420f0" stroke-width="1.0"/>
<path d="M602.10,318.01 L604.41,322.21 L599.79,322.21 Z" fill="#8420f0"/>
<line x1="622.30" y1="293.33" x2="622.30" y2="303.71" stroke="#8420f0" stroke-width="1.0"/>
<line x1="619.90" y1="293.33" x2="624.70" y2="293.33" stroke="#8420f0" stroke-width="1.0"/>
<line x1="619.90" y1="303.71" x2="624.70" y2="303.71" stroke="#8420f0" stroke-width="1.0"/>
<path d="M622.30,296.10 L624.61,300.30 L619.99,300.30 Z" fill="#8420f0"/>
<line x1="480.90" y1="362.90" x2="480.90" y2="365.06" stroke="#33e87e" stroke-width="1.0"/>
<line x1="478.50" y1="362.90" x2="483.30" y2="362.90" stroke="#33e87e" stroke-width="1.0"/>
<line x1="478.50" y1="365.06" x2="483.30" y2="365.06" stroke="#33e87e" stroke-width="1.0"/>
<circle cx="480.90" cy="363.98" r="2.10" fill="#33e87e"/>
<line x1="501.10" y1="360.19" x2="501.10" y2="362.90" stroke="#33e87e" stroke-width="1.0"/>
<line x1="498.70" y1="360.19" x2="503.50" y2="360.19" stroke="#33e87e" stroke-width="1.0"/>
<line x1="498.70" y1="362.90" x2="503.50" y2="362.90" stroke="#33e87e" stroke-width="1.0"/>
<circle cx="501.10" cy="361.55" r="2.10" fill="#33e87e"/>
<line x1="521.30" y1="353.97" x2="521.30" y2="357.76" stroke="#33e87e" stroke-width="1.0"/>
<line x1="518.90" y1="353.97" x2="523.70" y2="353.97" stroke="#33e87e" stroke-width="1.0"/>
<line x1="518.90" y1="357.76" x2="523.70" y2="357.76" stroke="#33e87e" stroke-width="1.0"/>
<circle cx="521.30" cy="355.87" r="2.10" fill="#33e87e"/>
<line x1="541.50" y1="344.77" x2="541.50" y2="349.64" stroke="#33e87e" stroke-width="1.0"/>
<line x1="539.10" y1="344.77" x2="543.90" y2="344.77" stroke="#33e87e" stroke-width="1.0"/>
<line x1="539.10" y1="349.64" x2="543.90" y2="349.64" stroke="#33e87e" stroke-width="1.0"/>
<circle cx="541.50" cy="347.21" r="2.10" fill="#33e87e"/>
<line x1="561.70" y1="336.71" x2="561.70" y2="341.91" stroke="#33e87e" stroke-width="1.0"/>
<line x1="559.30" y1="336.71" x2="564.10" y2="336.71" stroke="#33e87e" stroke-width="1.0"/>
<line x1="559.30" y1="341.91" x2="564.10" y2="341.91" stroke="#33e87e" stroke-width="1.0"/>
<circle cx="561.70" cy="339.31" r="2.10" fill="#33e87e"/>
<line x1="581.90" y1="327.46" x2="581.90" y2="332.33" stroke="#33e87e" stroke-width="1.0"/>
<line x1="579.50" y1="327.46" x2="584.30" y2="327.46" stroke="#33e87e" stroke-width="1.0"/>
<line x1="579.50" y1="332.33" x2="584.30" y2="332.33" stroke="#33e87e" stroke-width="1.0"/>
<circle cx="581.90" cy="329.90" r="2.10" fill="#33e87e"/>
<line x1="602.10" y1="306.09" x2="602.10" y2="313.67" stroke="#33e87e" stroke-width="1.0"/>
<line x1="599.70" y1="306.09" x2="604.50" y2="306.09" stroke="#33e87e" stroke-width="1.0"/>
<line x1="599.70" y1="313.67" x2="604.50" y2="313.67" stroke="#33e87e" stroke-width="1.0"/>
<circle cx="602.10" cy="309.88" r="2.10" fill="#33e87e"/>
<line x1="622.30" y1="277.26" x2="622.30" y2="287.32" stroke="#33e87e" stroke-width="1.0"/>
<line x1="619.90" y1="277.26" x2="624.70" y2="277.26" stroke="#33e87e" stroke-width="1.0"/>
<line x1="619.90" y1="287.32" x2="624.70" y2="287.32" stroke="#33e87e" stroke-width="1.0"/>
<circle cx="622.30" cy="282.29" r="2.10" fill="#33e87e"/>
<line x1="470.80" y1="266.60" x2="470.80" y2="375.45" stroke="#111" stroke-width="1.3"/>
<line x1="470.15" y1="374.80" x2="632.60" y2="374.80" stroke="#111" stroke-width="1.3"/>
<line x1="467.00" y1="374.80" x2="470.80" y2="374.80" stroke="#111" stroke-width="1.3"/>
<text x="466.20" y="377.52" font-size="7.6" text-anchor="end" font-weight="bold" font-family='"Liberation Sans", sans-serif' fill="#111" stroke="#111" stroke-width="0.15">0.0</text>
<line x1="467.00" y1="347.75" x2="470.80" y2="347.75" stroke="#111" stroke-width="1.3"/>
<text x="466.20" y="350.47" font-size="7.6" text-anchor="end" font-weight="bold" font-family='"Liberation Sans", sans-serif' fill="#111" stroke="#111" stroke-width="0.15">0.5</text>
<line x1="467.00" y1="320.70" x2="470.80" y2="320.70" stroke="#111" stroke-width="1.3"/>
<text x="466.20" y="323.42" font-size="7.6" text-anchor="end" font-weight="bold" font-family='"Liberation Sans", sans-serif' fill="#111" stroke="#111" stroke-width="0.15">1.0</text>
<line x1="467.00" y1="293.65" x2="470.80" y2="293.65" stroke="#111" stroke-width="1.3"/>
<text x="466.20" y="296.37" font-size="7.6" text-anchor="end" font-weight="bold" font-family='"Liberation Sans", sans-serif' fill="#111" stroke="#111" stroke-width="0.15">1.5</text>
<line x1="467.00" y1="266.60" x2="470.80" y2="266.60" stroke="#111" stroke-width="1.3"/>
<text x="466.20" y="269.32" font-size="7.6" text-anchor="end" font-weight="bold" font-family='"Liberation Sans", sans-serif' fill="#111" stroke="#111" stroke-width="0.15">2.0</text>
<line x1="470.80" y1="374.80" x2="470.80" y2="378.60" stroke="#111" stroke-width="1.3"/>
<text x="470.80" y="386.92" font-size="7.6" text-anchor="middle" font-weight="bold" font-family='"Liberation Sans", sans-serif' fill="#111" stroke="#111" stroke-width="0.15">0</text>
<line x1="511.20" y1="374.80" x2="511.20" y2="378.60" stroke="#111" stroke-width="1.3"/>
<text x="511.20" y="386.92" font-size="7.6" text-anchor="middle" font-weight="bold" font-family='"Liberation Sans", sans-serif' fill="#111" stroke="#111" stroke-width="0.15">2</text>
<line x1="551.60" y1="374.80" x2="551.60" y2="378.60" stroke="#111" stroke-width="1.3"/>
<text x="551.60" y="386.92" font-size="7.6" text-anchor="middle" font-weight="bold" font-family='"Liberation Sans", sans-serif' fill="#111" stroke="#111" stroke-width="0.15">4</text>
<line x1="592.00" y1="374.80" x2="592.00" y2="378.60" stroke="#111" stroke-width="1.3"/>
<text x="592.00" y="386.92" font-size="7.6" text-anchor="middle" font-weight="bold" font-family='"Liberation Sans", sans-serif' fill="#111" stroke="#111" stroke-width="0.15">6</text>
<line x1="632.40" y1="374.80" x2="632.40" y2="378.60" stroke="#111" stroke-width="1.3"/>
<text x="632.40" y="386.92" font-size="7.6" text-anchor="middle" font-weight="bold" font-family='"Liberation Sans", sans-serif' fill="#111" stroke="#111" stroke-width="0.15">8</text>
<text x="448.75" y="321.20" font-size="7.4" text-anchor="middle" font-weight="bold" font-family='"Liberation Sans", sans-serif' fill="#111" transform="rotate(-90 448.74920000000003 321.2)" textLength="84.4" lengthAdjust="spacingAndGlyphs" stroke="#111" stroke-width="0.15">Cell viability (OD 450nm)</text>
<text x="553.30" y="398.42" font-size="7.6" text-anchor="middle" font-weight="bold" font-family='"Liberation Sans", sans-serif' fill="#111" stroke="#111" stroke-width="0.15">Days</text>
<line x1="485.40" y1="266.50" x2="498.30" y2="266.50" stroke="#33e87e" stroke-width="1.5"/>
<circle cx="491.85" cy="266.50" r="2.10" fill="#33e87e"/>
<text x="504.00" y="269.11" font-size="7.3" text-anchor="start" font-weight="bold" font-family='"Liberation Sans", sans-serif' fill="#1a1a1a" textLength="19" lengthAdjust="spacingAndGlyphs" stroke="#1a1a1a" stroke-width="0.15">si-NC</text>
<line x1="485.40" y1="281.00" x2="498.30" y2="281.00" stroke="#f01818" stroke-width="1.5"/>
<rect x="489.75" y="278.90" width="4.20" height="4.20" fill="#f01818"/>
<text x="504.00" y="283.61" font-size="7.3" text-anchor="start" font-weight="bold" font-family='"Liberation Sans", sans-serif' fill="#1a1a1a" textLength="70.7" lengthAdjust="spacingAndGlyphs" stroke="#1a1a1a" stroke-width="0.15">si-NC/TET2 (Y1902F)</text>
<line x1="485.40" y1="296.20" x2="498.30" y2="296.20" stroke="#8420f0" stroke-width="1.5"/>
<path d="M491.85,293.78 L494.16,297.99 L489.54,297.99 Z" fill="#8420f0"/>
<text x="504.00" y="298.81" font-size="7.3" text-anchor="start" font-weight="bold" font-family='"Liberation Sans", sans-serif' fill="#1a1a1a" textLength="79.3" lengthAdjust="spacingAndGlyphs" stroke="#1a1a1a" stroke-width="0.15">si-PTEN/TET2 (Y1902F)</text>
<polyline points="627.70,298.50 632.00,298.50 632.00,325.10 627.70,325.10" fill="none" stroke="#222" stroke-width="1.1"/>
<polyline points="638.30,284.30 645.30,284.30 645.30,325.10 638.30,325.10" fill="none" stroke="#222" stroke-width="1.1"/>
<text x="633.92" y="310.30" font-size="7.5" text-anchor="middle" font-weight="bold" font-family='"Liberation Sans", sans-serif' fill="#222" transform="rotate(90 633.9150000000001 310.3)" stroke="#222" stroke-width="0.15">**</text>
<text x="647.52" y="303.30" font-size="7.5" text-anchor="middle" font-weight="bold" font-family='"Liberation Sans", sans-serif' fill="#222" transform="rotate(90 647.5150000000001 303.3)" stroke="#222" stroke-width="0.15">**</text>
<text x="524.40" y="426.40" font-size="7.6" text-anchor="start" font-weight="bold" font-family='"Liberation Sans", sans-serif' fill="#111" textLength="68.9" lengthAdjust="spacingAndGlyphs" stroke="#111" stroke-width="0.15">HepG2/FGFR3Δ7-9</text>
<polyline points="482.80,549.62 504.60,547.88 526.40,543.84 548.20,536.32 570.00,530.54 591.80,523.03 613.60,517.25 635.40,505.69" fill="none" stroke="#f03c1c" stroke-width="1.6" stroke-linejoin="round"/>
<polyline points="482.80,549.62 504.60,547.31 526.40,542.10 548.20,532.86 570.00,526.79 591.80,517.83 613.60,507.42 635.40,490.66" fill="none" stroke="#9a4cf0" stroke-width="1.6" stroke-linejoin="round"/>
<polyline points="482.80,549.62 504.60,546.73 526.40,541.53 548.20,530.54 570.00,521.87 591.80,512.63 613.60,496.44 635.40,475.63" fill="none" stroke="#22e8a0" stroke-width="1.6" stroke-linejoin="round"/>
<line x1="482.80" y1="548.46" x2="482.80" y2="550.77" stroke="#f03c1c" stroke-width="1.0"/>
<line x1="480.20" y1="548.46" x2="485.40" y2="548.46" stroke="#f03c1c" stroke-width="1.0"/>
<line x1="480.20" y1="550.77" x2="485.40" y2="550.77" stroke="#f03c1c" stroke-width="1.0"/>
<rect x="480.60" y="547.42" width="4.40" height="4.40" fill="#f03c1c"/>
<line x1="504.60" y1="546.73" x2="504.60" y2="549.04" stroke="#f03c1c" stroke-width="1.0"/>
<line x1="502.00" y1="546.73" x2="507.20" y2="546.73" stroke="#f03c1c" stroke-width="1.0"/>
<line x1="502.00" y1="549.04" x2="507.20" y2="549.04" stroke="#f03c1c" stroke-width="1.0"/>
<rect x="502.40" y="545.68" width="4.40" height="4.40" fill="#f03c1c"/>
<line x1="526.40" y1="542.39" x2="526.40" y2="545.28" stroke="#f03c1c" stroke-width="1.0"/>
<line x1="523.80" y1="542.39" x2="529.00" y2="542.39" stroke="#f03c1c" stroke-width="1.0"/>
<line x1="523.80" y1="545.28" x2="529.00" y2="545.28" stroke="#f03c1c" stroke-width="1.0"/>
<rect x="524.20" y="541.64" width="4.40" height="4.40" fill="#f03c1c"/>
<line x1="548.20" y1="534.59" x2="548.20" y2="538.06" stroke="#f03c1c" stroke-width="1.0"/>
<line x1="545.60" y1="534.59" x2="550.80" y2="534.59" stroke="#f03c1c" stroke-width="1.0"/>
<line x1="545.60" y1="538.06" x2="550.80" y2="538.06" stroke="#f03c1c" stroke-width="1.0"/>
<rect x="546.00" y="534.12" width="4.40" height="4.40" fill="#f03c1c"/>
<line x1="570.00" y1="527.08" x2="570.00" y2="534.01" stroke="#f03c1c" stroke-width="1.0"/>
<line x1="567.40" y1="527.08" x2="572.60" y2="527.08" stroke="#f03c1c" stroke-width="1.0"/>
<line x1="567.40" y1="534.01" x2="572.60" y2="534.01" stroke="#f03c1c" stroke-width="1.0"/>
<rect x="567.80" y="528.34" width="4.40" height="4.40" fill="#f03c1c"/>
<line x1="591.80" y1="520.26" x2="591.80" y2="525.80" stroke="#f03c1c" stroke-width="1.0"/>
<line x1="589.20" y1="520.26" x2="594.40" y2="520.26" stroke="#f03c1c" stroke-width="1.0"/>
<line x1="589.20" y1="525.80" x2="594.40" y2="525.80" stroke="#f03c1c" stroke-width="1.0"/>
<rect x="589.60" y="520.83" width="4.40" height="4.40" fill="#f03c1c"/>
<line x1="613.60" y1="514.07" x2="613.60" y2="520.43" stroke="#f03c1c" stroke-width="1.0"/>
<line x1="611.00" y1="514.07" x2="616.20" y2="514.07" stroke="#f03c1c" stroke-width="1.0"/>
<line x1="611.00" y1="520.43" x2="616.20" y2="520.43" stroke="#f03c1c" stroke-width="1.0"/>
<rect x="611.40" y="515.05" width="4.40" height="4.40" fill="#f03c1c"/>
<line x1="635.40" y1="501.36" x2="635.40" y2="510.03" stroke="#f03c1c" stroke-width="1.0"/>
<line x1="632.80" y1="501.36" x2="638.00" y2="501.36" stroke="#f03c1c" stroke-width="1.0"/>
<line x1="632.80" y1="510.03" x2="638.00" y2="510.03" stroke="#f03c1c" stroke-width="1.0"/>
<rect x="633.20" y="503.49" width="4.40" height="4.40" fill="#f03c1c"/>
<line x1="482.80" y1="548.46" x2="482.80" y2="550.77" stroke="#9a4cf0" stroke-width="1.0"/>
<line x1="480.20" y1="548.46" x2="485.40" y2="548.46" stroke="#9a4cf0" stroke-width="1.0"/>
<line x1="480.20" y1="550.77" x2="485.40" y2="550.77" stroke="#9a4cf0" stroke-width="1.0"/>
<path d="M482.80,547.09 L485.22,551.49 L480.38,551.49 Z" fill="#9a4cf0"/>
<line x1="504.60" y1="546.15" x2="504.60" y2="548.46" stroke="#9a4cf0" stroke-width="1.0"/>
<line x1="502.00" y1="546.15" x2="507.20" y2="546.15" stroke="#9a4cf0" stroke-width="1.0"/>
<line x1="502.00" y1="548.46" x2="507.20" y2="548.46" stroke="#9a4cf0" stroke-width="1.0"/>
<path d="M504.60,544.78 L507.02,549.18 L502.18,549.18 Z" fill="#9a4cf0"/>
<line x1="526.40" y1="540.37" x2="526.40" y2="543.84" stroke="#9a4cf0" stroke-width="1.0"/>
<line x1="523.80" y1="540.37" x2="529.00" y2="540.37" stroke="#9a4cf0" stroke-width="1.0"/>
<line x1="523.80" y1="543.84" x2="529.00" y2="543.84" stroke="#9a4cf0" stroke-width="1.0"/>
<path d="M526.40,539.57 L528.82,543.97 L523.98,543.97 Z" fill="#9a4cf0"/>
<line x1="548.20" y1="530.83" x2="548.20" y2="534.88" stroke="#9a4cf0" stroke-width="1.0"/>
<line x1="545.60" y1="530.83" x2="550.80" y2="530.83" stroke="#9a4cf0" stroke-width="1.0"/>
<line x1="545.60" y1="534.88" x2="550.80" y2="534.88" stroke="#9a4cf0" stroke-width="1.0"/>
<path d="M548.20,530.33 L550.62,534.73 L545.78,534.73 Z" fill="#9a4cf0"/>
<line x1="570.00" y1="524.48" x2="570.00" y2="529.10" stroke="#9a4cf0" stroke-width="1.0"/>
<line x1="567.40" y1="524.48" x2="572.60" y2="524.48" stroke="#9a4cf0" stroke-width="1.0"/>
<line x1="567.40" y1="529.10" x2="572.60" y2="529.10" stroke="#9a4cf0" stroke-width="1.0"/>
<path d="M570.00,524.26 L572.42,528.66 L567.58,528.66 Z" fill="#9a4cf0"/>
<line x1="591.80" y1="515.52" x2="591.80" y2="520.14" stroke="#9a4cf0" stroke-width="1.0"/>
<line x1="589.20" y1="515.52" x2="594.40" y2="515.52" stroke="#9a4cf0" stroke-width="1.0"/>
<line x1="589.20" y1="520.14" x2="594.40" y2="520.14" stroke="#9a4cf0" stroke-width="1.0"/>
<path d="M591.80,515.30 L594.22,519.70 L589.38,519.70 Z" fill="#9a4cf0"/>
<line x1="613.60" y1="502.63" x2="613.60" y2="512.22" stroke="#9a4cf0" stroke-width="1.0"/>
<line x1="611.00" y1="502.63" x2="616.20" y2="502.63" stroke="#9a4cf0" stroke-width="1.0"/>
<line x1="611.00" y1="512.22" x2="616.20" y2="512.22" stroke="#9a4cf0" stroke-width="1.0"/>
<path d="M613.60,504.89 L616.02,509.29 L611.18,509.29 Z" fill="#9a4cf0"/>
<line x1="635.40" y1="485.86" x2="635.40" y2="495.46" stroke="#9a4cf0" stroke-width="1.0"/>
<line x1="632.80" y1="485.86" x2="638.00" y2="485.86" stroke="#9a4cf0" stroke-width="1.0"/>
<line x1="632.80" y1="495.46" x2="638.00" y2="495.46" stroke="#9a4cf0" stroke-width="1.0"/>
<path d="M635.40,488.13 L637.82,492.53 L632.98,492.53 Z" fill="#9a4cf0"/>
<line x1="482.80" y1="548.46" x2="482.80" y2="550.77" stroke="#22e8a0" stroke-width="1.0"/>
<line x1="480.20" y1="548.46" x2="485.40" y2="548.46" stroke="#22e8a0" stroke-width="1.0"/>
<line x1="480.20" y1="550.77" x2="485.40" y2="550.77" stroke="#22e8a0" stroke-width="1.0"/>
<circle cx="482.80" cy="549.62" r="2.20" fill="#22e8a0"/>
<line x1="504.60" y1="545.28" x2="504.60" y2="548.17" stroke="#22e8a0" stroke-width="1.0"/>
<line x1="502.00" y1="545.28" x2="507.20" y2="545.28" stroke="#22e8a0" stroke-width="1.0"/>
<line x1="502.00" y1="548.17" x2="507.20" y2="548.17" stroke="#22e8a0" stroke-width="1.0"/>
<circle cx="504.60" cy="546.73" r="2.20" fill="#22e8a0"/>
<line x1="526.40" y1="539.79" x2="526.40" y2="543.26" stroke="#22e8a0" stroke-width="1.0"/>
<line x1="523.80" y1="539.79" x2="529.00" y2="539.79" stroke="#22e8a0" stroke-width="1.0"/>
<line x1="523.80" y1="543.26" x2="529.00" y2="543.26" stroke="#22e8a0" stroke-width="1.0"/>
<circle cx="526.40" cy="541.53" r="2.20" fill="#22e8a0"/>
<line x1="548.20" y1="528.23" x2="548.20" y2="532.86" stroke="#22e8a0" stroke-width="1.0"/>
<line x1="545.60" y1="528.23" x2="550.80" y2="528.23" stroke="#22e8a0" stroke-width="1.0"/>
<line x1="545.60" y1="532.86" x2="550.80" y2="532.86" stroke="#22e8a0" stroke-width="1.0"/>
<circle cx="548.20" cy="530.54" r="2.20" fill="#22e8a0"/>
<line x1="570.00" y1="518.70" x2="570.00" y2="525.05" stroke="#22e8a0" stroke-width="1.0"/>
<line x1="567.40" y1="518.70" x2="572.60" y2="518.70" stroke="#22e8a0" stroke-width="1.0"/>
<line x1="567.40" y1="525.05" x2="572.60" y2="525.05" stroke="#22e8a0" stroke-width="1.0"/>
<circle cx="570.00" cy="521.87" r="2.20" fill="#22e8a0"/>
<line x1="591.80" y1="509.04" x2="591.80" y2="516.21" stroke="#22e8a0" stroke-width="1.0"/>
<line x1="589.20" y1="509.04" x2="594.40" y2="509.04" stroke="#22e8a0" stroke-width="1.0"/>
<line x1="589.20" y1="516.21" x2="594.40" y2="516.21" stroke="#22e8a0" stroke-width="1.0"/>
<circle cx="591.80" cy="512.63" r="2.20" fill="#22e8a0"/>
<line x1="613.60" y1="491.99" x2="613.60" y2="500.89" stroke="#22e8a0" stroke-width="1.0"/>
<line x1="611.00" y1="491.99" x2="616.20" y2="491.99" stroke="#22e8a0" stroke-width="1.0"/>
<line x1="611.00" y1="500.89" x2="616.20" y2="500.89" stroke="#22e8a0" stroke-width="1.0"/>
<circle cx="613.60" cy="496.44" r="2.20" fill="#22e8a0"/>
<line x1="635.40" y1="470.32" x2="635.40" y2="480.95" stroke="#22e8a0" stroke-width="1.0"/>
<line x1="632.80" y1="470.32" x2="638.00" y2="470.32" stroke="#22e8a0" stroke-width="1.0"/>
<line x1="632.80" y1="480.95" x2="638.00" y2="480.95" stroke="#22e8a0" stroke-width="1.0"/>
<circle cx="635.40" cy="475.63" r="2.20" fill="#22e8a0"/>
<line x1="471.90" y1="444.70" x2="471.90" y2="561.30" stroke="#111" stroke-width="1.4"/>
<line x1="471.20" y1="560.60" x2="646.30" y2="560.60" stroke="#111" stroke-width="1.4"/>
<line x1="467.90" y1="560.60" x2="471.90" y2="560.60" stroke="#111" stroke-width="1.4"/>
<text x="467.10" y="563.46" font-size="8.0" text-anchor="end" font-weight="bold" font-family='"Liberation Sans", sans-serif' fill="#111" stroke="#111" stroke-width="0.15">0.0</text>
<line x1="467.90" y1="531.70" x2="471.90" y2="531.70" stroke="#111" stroke-width="1.4"/>
<text x="467.10" y="534.56" font-size="8.0" text-anchor="end" font-weight="bold" font-family='"Liberation Sans", sans-serif' fill="#111" stroke="#111" stroke-width="0.15">0.5</text>
<line x1="467.90" y1="502.80" x2="471.90" y2="502.80" stroke="#111" stroke-width="1.4"/>
<text x="467.10" y="505.66" font-size="8.0" text-anchor="end" font-weight="bold" font-family='"Liberation Sans", sans-serif' fill="#111" stroke="#111" stroke-width="0.15">1.0</text>
<line x1="467.90" y1="473.90" x2="471.90" y2="473.90" stroke="#111" stroke-width="1.4"/>
<text x="467.10" y="476.76" font-size="8.0" text-anchor="end" font-weight="bold" font-family='"Liberation Sans", sans-serif' fill="#111" stroke="#111" stroke-width="0.15">1.5</text>
<line x1="467.90" y1="445.00" x2="471.90" y2="445.00" stroke="#111" stroke-width="1.4"/>
<text x="467.10" y="447.86" font-size="8.0" text-anchor="end" font-weight="bold" font-family='"Liberation Sans", sans-serif' fill="#111" stroke="#111" stroke-width="0.15">2.0</text>
<line x1="471.90" y1="560.60" x2="471.90" y2="564.60" stroke="#111" stroke-width="1.4"/>
<text x="471.90" y="573.36" font-size="8.0" text-anchor="middle" font-weight="bold" font-family='"Liberation Sans", sans-serif' fill="#111" stroke="#111" stroke-width="0.15">0</text>
<line x1="515.50" y1="560.60" x2="515.50" y2="564.60" stroke="#111" stroke-width="1.4"/>
<text x="515.50" y="573.36" font-size="8.0" text-anchor="middle" font-weight="bold" font-family='"Liberation Sans", sans-serif' fill="#111" stroke="#111" stroke-width="0.15">2</text>
<line x1="559.10" y1="560.60" x2="559.10" y2="564.60" stroke="#111" stroke-width="1.4"/>
<text x="559.10" y="573.36" font-size="8.0" text-anchor="middle" font-weight="bold" font-family='"Liberation Sans", sans-serif' fill="#111" stroke="#111" stroke-width="0.15">4</text>
<line x1="602.70" y1="560.60" x2="602.70" y2="564.60" stroke="#111" stroke-width="1.4"/>
<text x="602.70" y="573.36" font-size="8.0" text-anchor="middle" font-weight="bold" font-family='"Liberation Sans", sans-serif' fill="#111" stroke="#111" stroke-width="0.15">6</text>
<line x1="646.30" y1="560.60" x2="646.30" y2="564.60" stroke="#111" stroke-width="1.4"/>
<text x="646.30" y="573.36" font-size="8.0" text-anchor="middle" font-weight="bold" font-family='"Liberation Sans", sans-serif' fill="#111" stroke="#111" stroke-width="0.15">8</text>
<text x="446.99" y="502.50" font-size="7.8" text-anchor="middle" font-weight="bold" font-family='"Liberation Sans", sans-serif' fill="#111" transform="rotate(-90 446.9924 502.5)" textLength="90" lengthAdjust="spacingAndGlyphs" stroke="#111" stroke-width="0.15">Cell viability (OD 450nm)</text>
<text x="559.00" y="587.39" font-size="7.8" text-anchor="middle" font-weight="bold" font-family='"Liberation Sans", sans-serif' fill="#111" stroke="#111" stroke-width="0.15">Days</text>
<line x1="487.90" y1="441.30" x2="501.70" y2="441.30" stroke="#22e8a0" stroke-width="1.6"/>
<circle cx="494.80" cy="441.30" r="2.20" fill="#22e8a0"/>
<text x="507.80" y="444.02" font-size="7.6" text-anchor="start" font-weight="bold" font-family='"Liberation Sans", sans-serif' fill="#1a1a1a" textLength="20.5" lengthAdjust="spacingAndGlyphs" stroke="#1a1a1a" stroke-width="0.15">si-NC</text>
<line x1="487.90" y1="459.00" x2="501.70" y2="459.00" stroke="#f03c1c" stroke-width="1.6"/>
<rect x="492.60" y="456.80" width="4.40" height="4.40" fill="#f03c1c"/>
<text x="507.80" y="461.72" font-size="7.6" text-anchor="start" font-weight="bold" font-family='"Liberation Sans", sans-serif' fill="#1a1a1a" textLength="75.9" lengthAdjust="spacingAndGlyphs" stroke="#1a1a1a" stroke-width="0.15">si-NC/TET2 (Y1902F)</text>
<line x1="487.90" y1="473.60" x2="501.70" y2="473.60" stroke="#9a4cf0" stroke-width="1.6"/>
<path d="M494.80,471.07 L497.22,475.47 L492.38,475.47 Z" fill="#9a4cf0"/>
<text x="507.80" y="476.32" font-size="7.6" text-anchor="start" font-weight="bold" font-family='"Liberation Sans", sans-serif' fill="#1a1a1a" textLength="85" lengthAdjust="spacingAndGlyphs" stroke="#1a1a1a" stroke-width="0.15">si-PTEN/TET2 (Y1902F)</text>
<polyline points="640.60,487.50 644.40,487.50 644.40,508.80 640.60,508.80" fill="none" stroke="#222" stroke-width="1.1"/>
<polyline points="653.00,474.60 660.50,474.60 660.50,508.80 653.00,508.80" fill="none" stroke="#222" stroke-width="1.1"/>
<text x="646.42" y="497.40" font-size="7.5" text-anchor="middle" font-weight="bold" font-family='"Liberation Sans", sans-serif' fill="#222" transform="rotate(90 646.4150000000001 497.4)" stroke="#222" stroke-width="0.15">**</text>
<text x="662.62" y="490.70" font-size="7.5" text-anchor="middle" font-weight="bold" font-family='"Liberation Sans", sans-serif' fill="#222" transform="rotate(90 662.615 490.7)" stroke="#222" stroke-width="0.15">**</text>
<text x="14.30" y="531.14" font-size="13.8" text-anchor="start" font-weight="bold" font-family='"Liberation Sans", sans-serif' fill="#111" stroke="#111" stroke-width="0.35">E</text>
<rect x="73.1" y="528.9" width="234.5" height="224.5" fill="none" stroke="#6e6e6e" stroke-width="1.1"/>
<line x1="67.30" y1="744.18" x2="73.10" y2="744.18" stroke="#555" stroke-width="1"/>
<text x="60.75" y="744.18" font-size="8.8" text-anchor="middle" font-weight="normal" font-family='"Liberation Sans", sans-serif' fill="#444" transform="rotate(-90 60.7504 744.1800000000001)" stroke="#444" stroke-width="0.1">1</text>
<line x1="67.30" y1="709.25" x2="73.10" y2="709.25" stroke="#555" stroke-width="1"/>
<text x="60.75" y="709.25" font-size="8.8" text-anchor="middle" font-weight="normal" font-family='"Liberation Sans", sans-serif' fill="#444" transform="rotate(-90 60.7504 709.25)" stroke="#444" stroke-width="0.1">2</text>
<line x1="67.30" y1="674.32" x2="73.10" y2="674.32" stroke="#555" stroke-width="1"/>
<text x="60.75" y="674.32" font-size="8.8" text-anchor="middle" font-weight="normal" font-family='"Liberation Sans", sans-serif' fill="#444" transform="rotate(-90 60.7504 674.32)" stroke="#444" stroke-width="0.1">3</text>
<line x1="67.30" y1="639.39" x2="73.10" y2="639.39" stroke="#555" stroke-width="1"/>
<text x="60.75" y="639.39" font-size="8.8" text-anchor="middle" font-weight="normal" font-family='"Liberation Sans", sans-serif' fill="#444" transform="rotate(-90 60.7504 639.39)" stroke="#444" stroke-width="0.1">4</text>
<line x1="67.30" y1="604.46" x2="73.10" y2="604.46" stroke="#555" stroke-width="1"/>
<text x="60.75" y="604.46" font-size="8.8" text-anchor="middle" font-weight="normal" font-family='"Liberation Sans", sans-serif' fill="#444" transform="rotate(-90 60.7504 604.46)" stroke="#444" stroke-width="0.1">5</text>
<line x1="67.30" y1="569.53" x2="73.10" y2="569.53" stroke="#555" stroke-width="1"/>
<text x="60.75" y="569.53" font-size="8.8" text-anchor="middle" font-weight="normal" font-family='"Liberation Sans", sans-serif' fill="#444" transform="rotate(-90 60.7504 569.53)" stroke="#444" stroke-width="0.1">6</text>
<line x1="67.30" y1="534.60" x2="73.10" y2="534.60" stroke="#555" stroke-width="1"/>
<text x="60.75" y="534.60" font-size="8.8" text-anchor="middle" font-weight="normal" font-family='"Liberation Sans", sans-serif' fill="#444" transform="rotate(-90 60.7504 534.6)" stroke="#444" stroke-width="0.1">7</text>
<line x1="75.90" y1="753.60" x2="75.90" y2="758.80" stroke="#555" stroke-width="1"/>
<text x="75.90" y="772.15" font-size="8.8" text-anchor="middle" font-weight="normal" font-family='"Liberation Sans", sans-serif' fill="#333" stroke="#333" stroke-width="0.1">0.0</text>
<line x1="115.30" y1="753.60" x2="115.30" y2="758.80" stroke="#555" stroke-width="1"/>
<text x="115.30" y="772.15" font-size="8.8" text-anchor="middle" font-weight="normal" font-family='"Liberation Sans", sans-serif' fill="#333" stroke="#333" stroke-width="0.1">0.5</text>
<line x1="154.70" y1="753.60" x2="154.70" y2="758.80" stroke="#555" stroke-width="1"/>
<text x="154.70" y="772.15" font-size="8.8" text-anchor="middle" font-weight="normal" font-family='"Liberation Sans", sans-serif' fill="#333" stroke="#333" stroke-width="0.1">1.0</text>
<line x1="194.10" y1="753.60" x2="194.10" y2="758.80" stroke="#555" stroke-width="1"/>
<text x="194.10" y="772.15" font-size="8.8" text-anchor="middle" font-weight="normal" font-family='"Liberation Sans", sans-serif' fill="#333" stroke="#333" stroke-width="0.1">1.5</text>
<line x1="233.50" y1="753.60" x2="233.50" y2="758.80" stroke="#555" stroke-width="1"/>
<text x="233.50" y="772.15" font-size="8.8" text-anchor="middle" font-weight="normal" font-family='"Liberation Sans", sans-serif' fill="#333" stroke="#333" stroke-width="0.1">2.0</text>
<line x1="272.90" y1="753.60" x2="272.90" y2="758.80" stroke="#555" stroke-width="1"/>
<text x="272.90" y="772.15" font-size="8.8" text-anchor="middle" font-weight="normal" font-family='"Liberation Sans", sans-serif' fill="#333" stroke="#333" stroke-width="0.1">2.5</text>
<text x="190.30" y="792.50" font-size="12.5" text-anchor="middle" font-weight="normal" font-family='"Liberation Sans", sans-serif' fill="#222" textLength="94.3" lengthAdjust="spacingAndGlyphs" stroke="#222" stroke-width="0.1">log2(TET2 TPM)</text>
<text x="40.08" y="641.20" font-size="12.5" text-anchor="middle" font-weight="normal" font-family='"Liberation Sans", sans-serif' fill="#222" transform="rotate(-90 40.075 641.2)" textLength="96.2" lengthAdjust="spacingAndGlyphs" stroke="#222" stroke-width="0.1">log2(PTEN TPM)</text>
<text x="87.00" y="544.40" font-size="10.6" text-anchor="start" font-weight="normal" font-family='"Liberation Sans", sans-serif' fill="#222" textLength="94" lengthAdjust="spacingAndGlyphs" stroke="#222" stroke-width="0.1">p−value = 1.3e−07</text>
<text x="87.00" y="557.80" font-size="10.6" text-anchor="start" font-weight="normal" font-family='"Liberation Sans", sans-serif' fill="#222" textLength="42.8" lengthAdjust="spacingAndGlyphs" stroke="#222" stroke-width="0.1">R = 0.27</text>
<circle cx="131.6" cy="578.2" r="1.35" fill="#0a0a0a"/>
<circle cx="124.3" cy="584.6" r="1.35" fill="#0a0a0a"/>
<circle cx="110.9" cy="587.8" r="1.35" fill="#0a0a0a"/>
<circle cx="136.8" cy="589.0" r="1.35" fill="#0a0a0a"/>
<circle cx="148.8" cy="590.5" r="1.35" fill="#0a0a0a"/>
<circle cx="131.6" cy="591.0" r="1.35" fill="#0a0a0a"/>
<circle cx="132.5" cy="592.8" r="1.35" fill="#0a0a0a"/>
<circle cx="118.7" cy="595.2" r="1.35" fill="#0a0a0a"/>
<circle cx="122.2" cy="594.6" r="1.35" fill="#0a0a0a"/>
<circle cx="135.6" cy="599.2" r="1.35" fill="#0a0a0a"/>
<circle cx="141.8" cy="599.6" r="1.35" fill="#0a0a0a"/>
<circle cx="150.8" cy="599.2" r="1.35" fill="#0a0a0a"/>
<circle cx="182.0" cy="560.7" r="1.35" fill="#0a0a0a"/>
<circle cx="159.3" cy="564.2" r="1.35" fill="#0a0a0a"/>
<circle cx="212.6" cy="573.1" r="1.35" fill="#0a0a0a"/>
<circle cx="179.9" cy="573.1" r="1.35" fill="#0a0a0a"/>
<circle cx="186.9" cy="574.3" r="1.35" fill="#0a0a0a"/>
<circle cx="157.7" cy="576.4" r="1.35" fill="#0a0a0a"/>
<circle cx="172.7" cy="582.2" r="1.35" fill="#0a0a0a"/>
<circle cx="180.4" cy="583.1" r="1.35" fill="#0a0a0a"/>
<circle cx="167.5" cy="587.1" r="1.35" fill="#0a0a0a"/>
<circle cx="178.5" cy="587.1" r="1.35" fill="#0a0a0a"/>
<circle cx="234.6" cy="587.1" r="1.35" fill="#0a0a0a"/>
<circle cx="193.2" cy="590.6" r="1.35" fill="#0a0a0a"/>
<circle cx="171.0" cy="592.5" r="1.35" fill="#0a0a0a"/>
<circle cx="195.1" cy="598.1" r="1.35" fill="#0a0a0a"/>
<circle cx="215.4" cy="598.1" r="1.35" fill="#0a0a0a"/>
<circle cx="162.1" cy="598.1" r="1.35" fill="#0a0a0a"/>
<circle cx="223.6" cy="600.4" r="1.35" fill="#0a0a0a"/>
<circle cx="220.5" cy="602.3" r="1.35" fill="#0a0a0a"/>
<circle cx="193.2" cy="602.3" r="1.35" fill="#0a0a0a"/>
<circle cx="192.0" cy="603.4" r="1.35" fill="#0a0a0a"/>
<circle cx="298.8" cy="599.2" r="1.35" fill="#0a0a0a"/>
<circle cx="164.0" cy="600.0" r="1.35" fill="#0a0a0a"/>
<circle cx="162.8" cy="603.9" r="1.35" fill="#0a0a0a"/>
<circle cx="152.3" cy="603.2" r="1.35" fill="#0a0a0a"/>
<circle cx="157.0" cy="603.9" r="1.35" fill="#0a0a0a"/>
<circle cx="176.9" cy="606.7" r="1.35" fill="#0a0a0a"/>
<circle cx="181.1" cy="606.7" r="1.35" fill="#0a0a0a"/>
<circle cx="207.2" cy="608.6" r="1.35" fill="#0a0a0a"/>
<circle cx="209.6" cy="609.3" r="1.35" fill="#0a0a0a"/>
<circle cx="208.4" cy="610.2" r="1.35" fill="#0a0a0a"/>
<circle cx="166.4" cy="609.3" r="1.35" fill="#0a0a0a"/>
<circle cx="159.3" cy="610.9" r="1.35" fill="#0a0a0a"/>
<circle cx="157.0" cy="612.6" r="1.35" fill="#0a0a0a"/>
<circle cx="160.5" cy="613.3" r="1.35" fill="#0a0a0a"/>
<circle cx="151.2" cy="614.4" r="1.35" fill="#0a0a0a"/>
<circle cx="176.9" cy="614.0" r="1.35" fill="#0a0a0a"/>
<circle cx="179.2" cy="614.4" r="1.35" fill="#0a0a0a"/>
<circle cx="181.5" cy="614.9" r="1.35" fill="#0a0a0a"/>
<circle cx="174.5" cy="615.6" r="1.35" fill="#0a0a0a"/>
<circle cx="187.4" cy="614.9" r="1.35" fill="#0a0a0a"/>
<circle cx="169.2" cy="616.8" r="1.35" fill="#0a0a0a"/>
<circle cx="184.6" cy="619.1" r="1.35" fill="#0a0a0a"/>
<circle cx="178.0" cy="618.0" r="1.35" fill="#0a0a0a"/>
<circle cx="179.9" cy="620.3" r="1.35" fill="#0a0a0a"/>
<circle cx="175.7" cy="620.3" r="1.35" fill="#0a0a0a"/>
<circle cx="193.2" cy="619.8" r="1.35" fill="#0a0a0a"/>
<circle cx="217.7" cy="619.1" r="1.35" fill="#0a0a0a"/>
<circle cx="251.6" cy="618.4" r="1.35" fill="#0a0a0a"/>
<circle cx="259.3" cy="623.3" r="1.35" fill="#0a0a0a"/>
<circle cx="151.2" cy="620.3" r="1.35" fill="#0a0a0a"/>
<circle cx="159.3" cy="620.3" r="1.35" fill="#0a0a0a"/>
<circle cx="162.8" cy="622.6" r="1.35" fill="#0a0a0a"/>
<circle cx="178.5" cy="621.9" r="1.35" fill="#0a0a0a"/>
<circle cx="181.5" cy="623.3" r="1.35" fill="#0a0a0a"/>
<circle cx="207.2" cy="623.8" r="1.35" fill="#0a0a0a"/>
<circle cx="214.9" cy="625.6" r="1.35" fill="#0a0a0a"/>
<circle cx="186.2" cy="623.8" r="1.35" fill="#0a0a0a"/>
<circle cx="188.5" cy="625.6" r="1.35" fill="#0a0a0a"/>
<circle cx="189.2" cy="627.3" r="1.35" fill="#0a0a0a"/>
<circle cx="199.1" cy="628.0" r="1.35" fill="#0a0a0a"/>
<circle cx="228.3" cy="627.3" r="1.35" fill="#0a0a0a"/>
<circle cx="230.6" cy="626.6" r="1.35" fill="#0a0a0a"/>
<circle cx="175.2" cy="626.1" r="1.35" fill="#0a0a0a"/>
<circle cx="176.9" cy="627.3" r="1.35" fill="#0a0a0a"/>
<circle cx="153.5" cy="629.6" r="1.35" fill="#0a0a0a"/>
<circle cx="154.7" cy="630.8" r="1.35" fill="#0a0a0a"/>
<circle cx="157.0" cy="632.0" r="1.35" fill="#0a0a0a"/>
<circle cx="161.7" cy="628.9" r="1.35" fill="#0a0a0a"/>
<circle cx="180.8" cy="630.8" r="1.35" fill="#0a0a0a"/>
<circle cx="187.4" cy="630.3" r="1.35" fill="#0a0a0a"/>
<circle cx="170.3" cy="632.7" r="1.35" fill="#0a0a0a"/>
<circle cx="173.4" cy="634.3" r="1.35" fill="#0a0a0a"/>
<circle cx="176.2" cy="633.1" r="1.35" fill="#0a0a0a"/>
<circle cx="177.6" cy="635.5" r="1.35" fill="#0a0a0a"/>
<circle cx="195.1" cy="633.6" r="1.35" fill="#0a0a0a"/>
<circle cx="217.3" cy="632.4" r="1.35" fill="#0a0a0a"/>
<circle cx="151.9" cy="635.9" r="1.35" fill="#0a0a0a"/>
<circle cx="157.0" cy="636.6" r="1.35" fill="#0a0a0a"/>
<circle cx="158.2" cy="639.7" r="1.35" fill="#0a0a0a"/>
<circle cx="154.7" cy="641.3" r="1.35" fill="#0a0a0a"/>
<circle cx="170.6" cy="637.3" r="1.35" fill="#0a0a0a"/>
<circle cx="171.5" cy="639.7" r="1.35" fill="#0a0a0a"/>
<circle cx="196.7" cy="642.5" r="1.35" fill="#0a0a0a"/>
<circle cx="229.9" cy="641.3" r="1.35" fill="#0a0a0a"/>
<circle cx="169.9" cy="643.6" r="1.35" fill="#0a0a0a"/>
<circle cx="157.0" cy="643.2" r="1.35" fill="#0a0a0a"/>
<circle cx="136.8" cy="600.9" r="1.35" fill="#0a0a0a"/>
<circle cx="139.7" cy="601.8" r="1.35" fill="#0a0a0a"/>
<circle cx="146.7" cy="602.3" r="1.35" fill="#0a0a0a"/>
<circle cx="149.7" cy="600.9" r="1.35" fill="#0a0a0a"/>
<circle cx="107.0" cy="604.7" r="1.35" fill="#0a0a0a"/>
<circle cx="105.3" cy="606.1" r="1.35" fill="#0a0a0a"/>
<circle cx="94.8" cy="608.2" r="1.35" fill="#0a0a0a"/>
<circle cx="113.5" cy="607.9" r="1.35" fill="#0a0a0a"/>
<circle cx="117.5" cy="607.0" r="1.35" fill="#0a0a0a"/>
<circle cx="128.6" cy="608.2" r="1.35" fill="#0a0a0a"/>
<circle cx="131.6" cy="609.3" r="1.35" fill="#0a0a0a"/>
<circle cx="134.5" cy="607.2" r="1.35" fill="#0a0a0a"/>
<circle cx="108.8" cy="609.3" r="1.35" fill="#0a0a0a"/>
<circle cx="110.0" cy="610.5" r="1.35" fill="#0a0a0a"/>
<circle cx="107.6" cy="611.7" r="1.35" fill="#0a0a0a"/>
<circle cx="117.5" cy="610.5" r="1.35" fill="#0a0a0a"/>
<circle cx="118.7" cy="612.3" r="1.35" fill="#0a0a0a"/>
<circle cx="120.5" cy="612.8" r="1.35" fill="#0a0a0a"/>
<circle cx="113.5" cy="613.8" r="1.35" fill="#0a0a0a"/>
<circle cx="114.6" cy="614.9" r="1.35" fill="#0a0a0a"/>
<circle cx="122.2" cy="615.2" r="1.35" fill="#0a0a0a"/>
<circle cx="125.7" cy="614.6" r="1.35" fill="#0a0a0a"/>
<circle cx="127.5" cy="615.8" r="1.35" fill="#0a0a0a"/>
<circle cx="130.4" cy="616.9" r="1.35" fill="#0a0a0a"/>
<circle cx="135.1" cy="613.4" r="1.35" fill="#0a0a0a"/>
<circle cx="136.8" cy="614.6" r="1.35" fill="#0a0a0a"/>
<circle cx="138.6" cy="615.2" r="1.35" fill="#0a0a0a"/>
<circle cx="141.5" cy="611.7" r="1.35" fill="#0a0a0a"/>
<circle cx="142.1" cy="614.0" r="1.35" fill="#0a0a0a"/>
<circle cx="146.7" cy="616.9" r="1.35" fill="#0a0a0a"/>
<circle cx="150.2" cy="614.6" r="1.35" fill="#0a0a0a"/>
<circle cx="151.4" cy="612.8" r="1.35" fill="#0a0a0a"/>
<circle cx="101.8" cy="617.5" r="1.35" fill="#0a0a0a"/>
<circle cx="104.7" cy="617.3" r="1.35" fill="#0a0a0a"/>
<circle cx="109.4" cy="617.5" r="1.35" fill="#0a0a0a"/>
<circle cx="102.4" cy="619.3" r="1.35" fill="#0a0a0a"/>
<circle cx="121.1" cy="619.9" r="1.35" fill="#0a0a0a"/>
<circle cx="119.9" cy="621.6" r="1.35" fill="#0a0a0a"/>
<circle cx="125.1" cy="617.5" r="1.35" fill="#0a0a0a"/>
<circle cx="139.7" cy="618.7" r="1.35" fill="#0a0a0a"/>
<circle cx="142.1" cy="619.9" r="1.35" fill="#0a0a0a"/>
<circle cx="139.2" cy="621.0" r="1.35" fill="#0a0a0a"/>
<circle cx="140.9" cy="623.4" r="1.35" fill="#0a0a0a"/>
<circle cx="144.4" cy="622.2" r="1.35" fill="#0a0a0a"/>
<circle cx="146.7" cy="621.0" r="1.35" fill="#0a0a0a"/>
<circle cx="150.2" cy="620.4" r="1.35" fill="#0a0a0a"/>
<circle cx="109.4" cy="620.4" r="1.35" fill="#0a0a0a"/>
<circle cx="112.3" cy="622.8" r="1.35" fill="#0a0a0a"/>
<circle cx="107.0" cy="623.9" r="1.35" fill="#0a0a0a"/>
<circle cx="100.6" cy="622.8" r="1.35" fill="#0a0a0a"/>
<circle cx="118.7" cy="624.5" r="1.35" fill="#0a0a0a"/>
<circle cx="135.1" cy="621.6" r="1.35" fill="#0a0a0a"/>
<circle cx="99.4" cy="626.6" r="1.35" fill="#0a0a0a"/>
<circle cx="102.9" cy="628.0" r="1.35" fill="#0a0a0a"/>
<circle cx="104.1" cy="629.0" r="1.35" fill="#0a0a0a"/>
<circle cx="114.0" cy="626.9" r="1.35" fill="#0a0a0a"/>
<circle cx="126.9" cy="625.1" r="1.35" fill="#0a0a0a"/>
<circle cx="130.4" cy="624.5" r="1.35" fill="#0a0a0a"/>
<circle cx="132.7" cy="625.1" r="1.35" fill="#0a0a0a"/>
<circle cx="128.6" cy="627.4" r="1.35" fill="#0a0a0a"/>
<circle cx="126.3" cy="628.0" r="1.35" fill="#0a0a0a"/>
<circle cx="127.5" cy="630.4" r="1.35" fill="#0a0a0a"/>
<circle cx="129.2" cy="629.8" r="1.35" fill="#0a0a0a"/>
<circle cx="135.1" cy="628.0" r="1.35" fill="#0a0a0a"/>
<circle cx="136.8" cy="629.8" r="1.35" fill="#0a0a0a"/>
<circle cx="139.7" cy="631.5" r="1.35" fill="#0a0a0a"/>
<circle cx="142.1" cy="628.0" r="1.35" fill="#0a0a0a"/>
<circle cx="146.7" cy="629.8" r="1.35" fill="#0a0a0a"/>
<circle cx="149.1" cy="628.0" r="1.35" fill="#0a0a0a"/>
<circle cx="151.4" cy="626.9" r="1.35" fill="#0a0a0a"/>
<circle cx="112.9" cy="630.9" r="1.35" fill="#0a0a0a"/>
<circle cx="116.4" cy="631.5" r="1.35" fill="#0a0a0a"/>
<circle cx="118.7" cy="631.3" r="1.35" fill="#0a0a0a"/>
<circle cx="122.2" cy="630.9" r="1.35" fill="#0a0a0a"/>
<circle cx="108.2" cy="630.9" r="1.35" fill="#0a0a0a"/>
<circle cx="107.6" cy="632.1" r="1.35" fill="#0a0a0a"/>
<circle cx="94.8" cy="634.5" r="1.35" fill="#0a0a0a"/>
<circle cx="98.3" cy="633.9" r="1.35" fill="#0a0a0a"/>
<circle cx="98.9" cy="635.0" r="1.35" fill="#0a0a0a"/>
<circle cx="114.0" cy="633.9" r="1.35" fill="#0a0a0a"/>
<circle cx="112.9" cy="635.0" r="1.35" fill="#0a0a0a"/>
<circle cx="115.2" cy="636.2" r="1.35" fill="#0a0a0a"/>
<circle cx="119.9" cy="633.9" r="1.35" fill="#0a0a0a"/>
<circle cx="123.4" cy="635.0" r="1.35" fill="#0a0a0a"/>
<circle cx="125.1" cy="637.4" r="1.35" fill="#0a0a0a"/>
<circle cx="132.7" cy="634.5" r="1.35" fill="#0a0a0a"/>
<circle cx="137.4" cy="637.4" r="1.35" fill="#0a0a0a"/>
<circle cx="139.7" cy="633.9" r="1.35" fill="#0a0a0a"/>
<circle cx="142.1" cy="633.9" r="1.35" fill="#0a0a0a"/>
<circle cx="145.0" cy="634.5" r="1.35" fill="#0a0a0a"/>
<circle cx="149.7" cy="635.0" r="1.35" fill="#0a0a0a"/>
<circle cx="95.9" cy="638.5" r="1.35" fill="#0a0a0a"/>
<circle cx="100.0" cy="638.5" r="1.35" fill="#0a0a0a"/>
<circle cx="107.0" cy="639.7" r="1.35" fill="#0a0a0a"/>
<circle cx="108.2" cy="638.5" r="1.35" fill="#0a0a0a"/>
<circle cx="114.6" cy="637.4" r="1.35" fill="#0a0a0a"/>
<circle cx="118.1" cy="636.8" r="1.35" fill="#0a0a0a"/>
<circle cx="122.2" cy="638.5" r="1.35" fill="#0a0a0a"/>
<circle cx="94.2" cy="640.3" r="1.35" fill="#0a0a0a"/>
<circle cx="94.8" cy="642.0" r="1.35" fill="#0a0a0a"/>
<circle cx="103.5" cy="642.0" r="1.35" fill="#0a0a0a"/>
<circle cx="105.9" cy="640.9" r="1.35" fill="#0a0a0a"/>
<circle cx="116.4" cy="640.3" r="1.35" fill="#0a0a0a"/>
<circle cx="119.9" cy="641.5" r="1.35" fill="#0a0a0a"/>
<circle cx="123.4" cy="642.0" r="1.35" fill="#0a0a0a"/>
<circle cx="120.5" cy="644.4" r="1.35" fill="#0a0a0a"/>
<circle cx="115.2" cy="643.8" r="1.35" fill="#0a0a0a"/>
<circle cx="109.4" cy="644.4" r="1.35" fill="#0a0a0a"/>
<circle cx="111.1" cy="645.0" r="1.35" fill="#0a0a0a"/>
<circle cx="101.2" cy="646.1" r="1.35" fill="#0a0a0a"/>
<circle cx="102.9" cy="646.7" r="1.35" fill="#0a0a0a"/>
<circle cx="100.6" cy="647.3" r="1.35" fill="#0a0a0a"/>
<circle cx="104.7" cy="646.1" r="1.35" fill="#0a0a0a"/>
<circle cx="135.1" cy="645.5" r="1.35" fill="#0a0a0a"/>
<circle cx="143.2" cy="643.8" r="1.35" fill="#0a0a0a"/>
<circle cx="145.0" cy="645.0" r="1.35" fill="#0a0a0a"/>
<circle cx="149.7" cy="644.4" r="1.35" fill="#0a0a0a"/>
<circle cx="93.0" cy="647.3" r="1.35" fill="#0a0a0a"/>
<circle cx="125.1" cy="646.7" r="1.35" fill="#0a0a0a"/>
<circle cx="119.9" cy="646.1" r="1.35" fill="#0a0a0a"/>
<circle cx="101.8" cy="650.8" r="1.35" fill="#0a0a0a"/>
<circle cx="111.7" cy="648.5" r="1.35" fill="#0a0a0a"/>
<circle cx="112.9" cy="649.6" r="1.35" fill="#0a0a0a"/>
<circle cx="114.6" cy="650.2" r="1.35" fill="#0a0a0a"/>
<circle cx="111.1" cy="651.4" r="1.35" fill="#0a0a0a"/>
<circle cx="116.4" cy="649.6" r="1.35" fill="#0a0a0a"/>
<circle cx="123.4" cy="650.2" r="1.35" fill="#0a0a0a"/>
<circle cx="122.2" cy="651.4" r="1.35" fill="#0a0a0a"/>
<circle cx="129.2" cy="650.2" r="1.35" fill="#0a0a0a"/>
<circle cx="130.4" cy="652.0" r="1.35" fill="#0a0a0a"/>
<circle cx="131.0" cy="653.7" r="1.35" fill="#0a0a0a"/>
<circle cx="125.7" cy="653.1" r="1.35" fill="#0a0a0a"/>
<circle cx="126.3" cy="654.9" r="1.35" fill="#0a0a0a"/>
<circle cx="94.8" cy="653.7" r="1.35" fill="#0a0a0a"/>
<circle cx="94.8" cy="655.5" r="1.35" fill="#0a0a0a"/>
<circle cx="112.3" cy="654.3" r="1.35" fill="#0a0a0a"/>
<circle cx="114.6" cy="654.9" r="1.35" fill="#0a0a0a"/>
<circle cx="120.5" cy="654.9" r="1.35" fill="#0a0a0a"/>
<circle cx="141.5" cy="649.6" r="1.35" fill="#0a0a0a"/>
<circle cx="150.0" cy="651.4" r="1.35" fill="#0a0a0a"/>
<circle cx="101.2" cy="651.4" r="1.35" fill="#0a0a0a"/>
<circle cx="102.9" cy="657.2" r="1.35" fill="#0a0a0a"/>
<circle cx="105.3" cy="659.0" r="1.35" fill="#0a0a0a"/>
<circle cx="103.5" cy="656.6" r="1.35" fill="#0a0a0a"/>
<circle cx="109.4" cy="660.1" r="1.35" fill="#0a0a0a"/>
<circle cx="110.5" cy="659.0" r="1.35" fill="#0a0a0a"/>
<circle cx="126.3" cy="657.2" r="1.35" fill="#0a0a0a"/>
<circle cx="136.2" cy="657.2" r="1.35" fill="#0a0a0a"/>
<circle cx="133.9" cy="659.6" r="1.35" fill="#0a0a0a"/>
<circle cx="132.7" cy="661.9" r="1.35" fill="#0a0a0a"/>
<circle cx="136.2" cy="665.2" r="1.35" fill="#0a0a0a"/>
<circle cx="118.7" cy="661.3" r="1.35" fill="#0a0a0a"/>
<circle cx="96.5" cy="660.5" r="1.35" fill="#0a0a0a"/>
<circle cx="88.9" cy="660.7" r="1.35" fill="#0a0a0a"/>
<circle cx="81.9" cy="660.1" r="1.35" fill="#0a0a0a"/>
<circle cx="148.8" cy="658.4" r="1.35" fill="#0a0a0a"/>
<circle cx="100.6" cy="664.8" r="1.35" fill="#0a0a0a"/>
<circle cx="104.7" cy="664.8" r="1.35" fill="#0a0a0a"/>
<circle cx="90.7" cy="665.4" r="1.35" fill="#0a0a0a"/>
<circle cx="95.9" cy="666.0" r="1.35" fill="#0a0a0a"/>
<circle cx="101.2" cy="667.7" r="1.35" fill="#0a0a0a"/>
<circle cx="112.9" cy="670.1" r="1.35" fill="#0a0a0a"/>
<circle cx="113.5" cy="671.5" r="1.35" fill="#0a0a0a"/>
<circle cx="100.6" cy="674.7" r="1.35" fill="#0a0a0a"/>
<circle cx="103.5" cy="674.2" r="1.35" fill="#0a0a0a"/>
<circle cx="99.4" cy="676.5" r="1.35" fill="#0a0a0a"/>
<circle cx="98.3" cy="678.2" r="1.35" fill="#0a0a0a"/>
<circle cx="86.6" cy="676.8" r="1.35" fill="#0a0a0a"/>
<circle cx="150.5" cy="644.7" r="1.35" fill="#0a0a0a"/>
<circle cx="150.5" cy="651.2" r="1.35" fill="#0a0a0a"/>
<circle cx="155.1" cy="648.2" r="1.35" fill="#0a0a0a"/>
<circle cx="163.3" cy="648.6" r="1.35" fill="#0a0a0a"/>
<circle cx="164.0" cy="650.0" r="1.35" fill="#0a0a0a"/>
<circle cx="161.2" cy="654.0" r="1.35" fill="#0a0a0a"/>
<circle cx="161.7" cy="658.2" r="1.35" fill="#0a0a0a"/>
<circle cx="234.6" cy="656.4" r="1.35" fill="#0a0a0a"/>
<circle cx="197.4" cy="662.7" r="1.35" fill="#0a0a0a"/>
<circle cx="182.7" cy="666.2" r="1.35" fill="#0a0a0a"/>
<circle cx="207.5" cy="664.3" r="1.35" fill="#0a0a0a"/>
<circle cx="235.7" cy="666.6" r="1.35" fill="#0a0a0a"/>
<circle cx="252.1" cy="672.5" r="1.35" fill="#0a0a0a"/>
<circle cx="172.2" cy="676.2" r="1.35" fill="#0a0a0a"/>
<circle cx="182.7" cy="690.0" r="1.35" fill="#0a0a0a"/>
<circle cx="158.9" cy="714.7" r="1.35" fill="#0a0a0a"/>
<circle cx="165.2" cy="719.0" r="1.35" fill="#0a0a0a"/>
<circle cx="212.6" cy="649.8" r="1.35" fill="#0a0a0a"/>
<circle cx="132.1" cy="674.9" r="1.35" fill="#0a0a0a"/>
<circle cx="86.9" cy="676.8" r="1.35" fill="#0a0a0a"/>
<circle cx="82.5" cy="679.9" r="1.35" fill="#0a0a0a"/>
<circle cx="100.6" cy="675.3" r="1.35" fill="#0a0a0a"/>
<circle cx="101.2" cy="674.4" r="1.35" fill="#0a0a0a"/>
<circle cx="104.1" cy="674.4" r="1.35" fill="#0a0a0a"/>
<circle cx="98.6" cy="678.4" r="1.35" fill="#0a0a0a"/>
<circle cx="88.0" cy="683.2" r="1.35" fill="#0a0a0a"/>
<circle cx="90.7" cy="690.4" r="1.35" fill="#0a0a0a"/>
<circle cx="83.7" cy="692.0" r="1.35" fill="#0a0a0a"/>
<circle cx="83.7" cy="694.8" r="1.35" fill="#0a0a0a"/>
<circle cx="95.7" cy="696.4" r="1.35" fill="#0a0a0a"/>
<circle cx="108.6" cy="697.2" r="1.35" fill="#0a0a0a"/>
<circle cx="114.4" cy="696.6" r="1.35" fill="#0a0a0a"/>
<circle cx="133.0" cy="697.4" r="1.35" fill="#0a0a0a"/>
<circle cx="138.3" cy="699.0" r="1.35" fill="#0a0a0a"/>
<circle cx="88.0" cy="701.8" r="1.35" fill="#0a0a0a"/>
<circle cx="136.2" cy="745.4" r="1.35" fill="#0a0a0a"/>
<circle cx="126.2" cy="634.6" r="1.35" fill="#0a0a0a"/>
<circle cx="126.6" cy="625.4" r="1.35" fill="#0a0a0a"/>
<circle cx="116.0" cy="629.1" r="1.35" fill="#0a0a0a"/>
<circle cx="146.7" cy="628.5" r="1.35" fill="#0a0a0a"/>
<circle cx="145.6" cy="626.8" r="1.35" fill="#0a0a0a"/>
<circle cx="135.9" cy="628.6" r="1.35" fill="#0a0a0a"/>
<circle cx="105.0" cy="643.7" r="1.35" fill="#0a0a0a"/>
<circle cx="137.6" cy="631.6" r="1.35" fill="#0a0a0a"/>
<circle cx="104.6" cy="615.2" r="1.35" fill="#0a0a0a"/>
<circle cx="116.7" cy="626.2" r="1.35" fill="#0a0a0a"/>
<circle cx="134.6" cy="626.3" r="1.35" fill="#0a0a0a"/>
<circle cx="137.8" cy="619.0" r="1.35" fill="#0a0a0a"/>
<circle cx="134.6" cy="631.2" r="1.35" fill="#0a0a0a"/>
<circle cx="120.1" cy="649.4" r="1.35" fill="#0a0a0a"/>
<circle cx="138.3" cy="639.1" r="1.35" fill="#0a0a0a"/>
<circle cx="120.7" cy="622.2" r="1.35" fill="#0a0a0a"/>
<circle cx="124.8" cy="628.1" r="1.35" fill="#0a0a0a"/>
<circle cx="139.5" cy="628.4" r="1.35" fill="#0a0a0a"/>
<circle cx="123.3" cy="619.2" r="1.35" fill="#0a0a0a"/>
<circle cx="122.2" cy="643.4" r="1.35" fill="#0a0a0a"/>
<circle cx="117.9" cy="633.7" r="1.35" fill="#0a0a0a"/>
<circle cx="136.4" cy="610.0" r="1.35" fill="#0a0a0a"/>
<circle cx="130.7" cy="642.2" r="1.35" fill="#0a0a0a"/>
<circle cx="99.8" cy="632.0" r="1.35" fill="#0a0a0a"/>
<circle cx="128.4" cy="619.4" r="1.35" fill="#0a0a0a"/>
<circle cx="137.5" cy="625.4" r="1.35" fill="#0a0a0a"/>
<circle cx="108.0" cy="642.6" r="1.35" fill="#0a0a0a"/>
<circle cx="140.0" cy="635.9" r="1.35" fill="#0a0a0a"/>
<circle cx="151.6" cy="626.6" r="1.35" fill="#0a0a0a"/>
<circle cx="131.8" cy="613.3" r="1.35" fill="#0a0a0a"/>
<circle cx="139.2" cy="619.0" r="1.35" fill="#0a0a0a"/>
<circle cx="123.2" cy="615.8" r="1.35" fill="#0a0a0a"/>
<circle cx="115.5" cy="625.8" r="1.35" fill="#0a0a0a"/>
<circle cx="149.3" cy="600.8" r="1.35" fill="#0a0a0a"/>
<circle cx="108.1" cy="636.1" r="1.35" fill="#0a0a0a"/>
<circle cx="151.7" cy="629.0" r="1.35" fill="#0a0a0a"/>
<circle cx="101.5" cy="607.4" r="1.35" fill="#0a0a0a"/>
<circle cx="135.4" cy="618.6" r="1.35" fill="#0a0a0a"/>
<circle cx="113.2" cy="643.0" r="1.35" fill="#0a0a0a"/>
<circle cx="146.5" cy="625.6" r="1.35" fill="#0a0a0a"/>
<circle cx="133.7" cy="631.9" r="1.35" fill="#0a0a0a"/>
<circle cx="153.9" cy="628.8" r="1.35" fill="#0a0a0a"/>
<circle cx="137.8" cy="632.1" r="1.35" fill="#0a0a0a"/>
<circle cx="106.5" cy="648.0" r="1.35" fill="#0a0a0a"/>
<circle cx="144.3" cy="630.2" r="1.35" fill="#0a0a0a"/>
<text x="407.70" y="604.63" font-size="13.5" text-anchor="start" font-weight="bold" font-family='"Liberation Sans", sans-serif' fill="#111" stroke="#111" stroke-width="0.35">F</text>
<line x1="505.90" y1="737.90" x2="505.90" y2="741.10" stroke="#111" stroke-width="1.4"/>
<line x1="497.10" y1="737.90" x2="514.70" y2="737.90" stroke="#111" stroke-width="1.4"/>
<rect x="489.15" y="741.15" width="33.50" height="29.20" fill="#1580f8" stroke="#0308fc" stroke-width="2.1"/>
<line x1="557.30" y1="686.50" x2="557.30" y2="690.80" stroke="#111" stroke-width="1.4"/>
<line x1="548.50" y1="686.50" x2="566.10" y2="686.50" stroke="#111" stroke-width="1.4"/>
<rect x="540.55" y="690.85" width="33.50" height="79.50" fill="#1580f8" stroke="#0308fc" stroke-width="2.1"/>
<line x1="608.75" y1="652.10" x2="608.75" y2="663.40" stroke="#111" stroke-width="1.4"/>
<line x1="599.95" y1="652.10" x2="617.55" y2="652.10" stroke="#111" stroke-width="1.4"/>
<rect x="591.85" y="663.45" width="33.80" height="106.90" fill="#1580f8" stroke="#0308fc" stroke-width="2.1"/>
<line x1="471.70" y1="614.60" x2="471.70" y2="772.50" stroke="#111" stroke-width="2.2"/>
<line x1="470.60" y1="771.40" x2="643.20" y2="771.40" stroke="#111" stroke-width="2.2"/>
<line x1="466.80" y1="771.40" x2="471.70" y2="771.40" stroke="#111" stroke-width="2.1"/>
<text x="466.50" y="775.54" font-size="11" text-anchor="end" font-weight="bold" font-family='"Liberation Sans", sans-serif' fill="#111" stroke="#111" stroke-width="0.35">0</text>
<line x1="466.80" y1="740.25" x2="471.70" y2="740.25" stroke="#111" stroke-width="2.1"/>
<text x="466.50" y="744.39" font-size="11" text-anchor="end" font-weight="bold" font-family='"Liberation Sans", sans-serif' fill="#111" stroke="#111" stroke-width="0.35">1</text>
<line x1="466.80" y1="709.10" x2="471.70" y2="709.10" stroke="#111" stroke-width="2.1"/>
<text x="466.50" y="713.24" font-size="11" text-anchor="end" font-weight="bold" font-family='"Liberation Sans", sans-serif' fill="#111" stroke="#111" stroke-width="0.35">2</text>
<line x1="466.80" y1="677.95" x2="471.70" y2="677.95" stroke="#111" stroke-width="2.1"/>
<text x="466.50" y="682.09" font-size="11" text-anchor="end" font-weight="bold" font-family='"Liberation Sans", sans-serif' fill="#111" stroke="#111" stroke-width="0.35">3</text>
<line x1="466.80" y1="646.80" x2="471.70" y2="646.80" stroke="#111" stroke-width="2.1"/>
<text x="466.50" y="650.94" font-size="11" text-anchor="end" font-weight="bold" font-family='"Liberation Sans", sans-serif' fill="#111" stroke="#111" stroke-width="0.35">4</text>
<line x1="466.80" y1="615.65" x2="471.70" y2="615.65" stroke="#111" stroke-width="2.1"/>
<text x="466.50" y="619.79" font-size="11" text-anchor="end" font-weight="bold" font-family='"Liberation Sans", sans-serif' fill="#111" stroke="#111" stroke-width="0.35">5</text>
<line x1="505.70" y1="771.40" x2="505.70" y2="777.60" stroke="#111" stroke-width="2.1"/>
<line x1="557.40" y1="771.40" x2="557.40" y2="777.60" stroke="#111" stroke-width="2.1"/>
<line x1="608.80" y1="771.40" x2="608.80" y2="777.60" stroke="#111" stroke-width="2.1"/>
<polyline points="504.90,714.30 504.90,631.10 554.60,631.10 554.60,650.40" fill="none" stroke="#1a1a1a" stroke-width="1.8"/>
<polyline points="564.00,651.50 564.00,631.10 608.90,631.10 608.90,640.50" fill="none" stroke="#1a1a1a" stroke-width="1.8"/>
<text x="529.90" y="623.08" font-size="10" text-anchor="middle" font-weight="bold" font-family='"Liberation Sans", sans-serif' fill="#222" stroke="#222" stroke-width="0.35">**</text>
<text x="586.30" y="623.08" font-size="10" text-anchor="middle" font-weight="bold" font-family='"Liberation Sans", sans-serif' fill="#222" stroke="#222" stroke-width="0.35">**</text>
<text x="449.15" y="692.50" font-size="10.2" text-anchor="middle" font-weight="bold" font-family='"Liberation Sans", sans-serif' fill="#111" transform="rotate(-90 449.1516 692.5)" textLength="149.8" lengthAdjust="spacingAndGlyphs" stroke="#111" stroke-width="0.35">Relative mRNA level of PTEN</text>
<text x="508.30" y="791.00" font-size="11" text-anchor="end" font-weight="bold" font-family='"Liberation Sans", sans-serif' fill="#111" transform="rotate(-45 508.3 791)" stroke="#111" stroke-width="0.35">Vector</text>
<text x="562.30" y="790.80" font-size="11" text-anchor="end" font-weight="bold" font-family='"Liberation Sans", sans-serif' fill="#111" transform="rotate(-45 562.3 790.8)" stroke="#111" stroke-width="0.35">TET2 (WT)</text>
<text x="614.80" y="790.80" font-size="11" text-anchor="end" font-weight="bold" font-family='"Liberation Sans", sans-serif' fill="#111" transform="rotate(-45 614.8 790.8)" stroke="#111" stroke-width="0.35">TET2 (Y1902F)</text>
<text x="49.50" y="834.33" font-size="13.5" text-anchor="start" font-weight="bold" font-family='"Liberation Sans", sans-serif' fill="#111" stroke="#111" stroke-width="0.35">G</text>
<line x1="137.45" y1="955.30" x2="137.45" y2="957.60" stroke="#111" stroke-width="1.5"/>
<line x1="128.65" y1="955.30" x2="146.25" y2="955.30" stroke="#111" stroke-width="1.5"/>
<rect x="120.25" y="957.35" width="34.40" height="17.10" fill="#1580f8" stroke="#0308fc" stroke-width="2.1"/>
<line x1="189.20" y1="895.70" x2="189.20" y2="903.00" stroke="#111" stroke-width="1.5"/>
<line x1="180.30" y1="895.70" x2="198.10" y2="895.70" stroke="#111" stroke-width="1.5"/>
<rect x="172.25" y="902.75" width="33.90" height="71.70" fill="#1580f8" stroke="#0308fc" stroke-width="2.1"/>
<line x1="240.95" y1="851.50" x2="240.95" y2="860.40" stroke="#111" stroke-width="1.5"/>
<line x1="232.35" y1="851.50" x2="249.55" y2="851.50" stroke="#111" stroke-width="1.5"/>
<rect x="224.05" y="860.15" width="33.80" height="114.30" fill="#1580f8" stroke="#0308fc" stroke-width="2.1"/>
<line x1="103.40" y1="827.50" x2="103.40" y2="976.60" stroke="#111" stroke-width="2.2"/>
<line x1="98.40" y1="975.50" x2="274.70" y2="975.50" stroke="#111" stroke-width="2.2"/>
<line x1="97.90" y1="975.50" x2="103.40" y2="975.50" stroke="#111" stroke-width="2.1"/>
<text x="97.00" y="979.79" font-size="10.6" text-anchor="end" font-weight="bold" font-family='"Liberation Serif", serif' fill="#111" stroke="#111" stroke-width="0.35">0</text>
<line x1="97.90" y1="938.78" x2="103.40" y2="938.78" stroke="#111" stroke-width="2.1"/>
<text x="97.00" y="943.07" font-size="10.6" text-anchor="end" font-weight="bold" font-family='"Liberation Serif", serif' fill="#111" stroke="#111" stroke-width="0.35">2</text>
<line x1="97.90" y1="902.06" x2="103.40" y2="902.06" stroke="#111" stroke-width="2.1"/>
<text x="97.00" y="906.35" font-size="10.6" text-anchor="end" font-weight="bold" font-family='"Liberation Serif", serif' fill="#111" stroke="#111" stroke-width="0.35">4</text>
<line x1="97.90" y1="865.34" x2="103.40" y2="865.34" stroke="#111" stroke-width="2.1"/>
<text x="97.00" y="869.63" font-size="10.6" text-anchor="end" font-weight="bold" font-family='"Liberation Serif", serif' fill="#111" stroke="#111" stroke-width="0.35">6</text>
<line x1="97.90" y1="828.62" x2="103.40" y2="828.62" stroke="#111" stroke-width="2.1"/>
<text x="97.00" y="832.91" font-size="10.6" text-anchor="end" font-weight="bold" font-family='"Liberation Serif", serif' fill="#111" stroke="#111" stroke-width="0.35">8</text>
<line x1="136.70" y1="975.50" x2="136.70" y2="980.80" stroke="#111" stroke-width="2.1"/>
<line x1="188.80" y1="975.50" x2="188.80" y2="980.80" stroke="#111" stroke-width="2.1"/>
<line x1="240.00" y1="975.50" x2="240.00" y2="980.80" stroke="#111" stroke-width="2.1"/>
<polyline points="135.50,906.70 135.50,837.10 184.10,837.10 184.10,855.50" fill="none" stroke="#1a1a1a" stroke-width="1.8"/>
<polyline points="194.60,855.50 194.60,837.10 241.40,837.10 241.40,845.00" fill="none" stroke="#1a1a1a" stroke-width="1.8"/>
<text x="162.50" y="834.58" font-size="10" text-anchor="middle" font-weight="bold" font-family='"Liberation Sans", sans-serif' fill="#444" stroke="#444" stroke-width="0.35">**</text>
<text x="223.00" y="834.58" font-size="10" text-anchor="middle" font-weight="bold" font-family='"Liberation Sans", sans-serif' fill="#444" stroke="#444" stroke-width="0.35">**</text>
<text x="64.28" y="898.20" font-size="10" text-anchor="middle" font-weight="bold" font-family='"Liberation Sans", sans-serif' fill="#111" transform="rotate(-90 64.28 898.2)" textLength="93.1" lengthAdjust="spacingAndGlyphs" stroke="#111" stroke-width="0.35">5-hmc enrichment</text>
<text x="83.48" y="896.70" font-size="10" text-anchor="middle" font-weight="bold" font-family='"Liberation Sans", sans-serif' fill="#111" transform="rotate(-90 83.48 896.7)" textLength="96.3" lengthAdjust="spacingAndGlyphs" stroke="#111" stroke-width="0.35">on PTEN promoter</text>
<text x="136.30" y="991.50" font-size="11" text-anchor="end" font-weight="bold" font-family='"Liberation Sans", sans-serif' fill="#111" transform="rotate(-45 136.3 991.5)" stroke="#111" stroke-width="0.35">Vector</text>
<text x="189.30" y="991.50" font-size="11" text-anchor="end" font-weight="bold" font-family='"Liberation Sans", sans-serif' fill="#111" transform="rotate(-45 189.3 991.5)" stroke="#111" stroke-width="0.35">TET2 (WT)</text>
<text x="242.80" y="991.50" font-size="11" text-anchor="end" font-weight="bold" font-family='"Liberation Sans", sans-serif' fill="#111" transform="rotate(-45 242.8 991.5)" stroke="#111" stroke-width="0.35">TET2 (Y1902F)</text>
<text x="344.50" y="835.33" font-size="13.5" text-anchor="start" font-weight="bold" font-family='"Liberation Sans", sans-serif' fill="#111" stroke="#111" stroke-width="0.35">H</text>
<line x1="422.90" y1="976.90" x2="422.90" y2="979.30" stroke="#111" stroke-width="1.4"/>
<line x1="417.30" y1="976.90" x2="428.50" y2="976.90" stroke="#111" stroke-width="1.4"/>
<rect x="413.55" y="978.95" width="18.70" height="2.60" fill="#1580f8" stroke="#0308fc" stroke-width="2.1"/>
<line x1="450.65" y1="910.90" x2="450.65" y2="925.00" stroke="#111" stroke-width="1.4"/>
<line x1="445.05" y1="910.90" x2="456.25" y2="910.90" stroke="#111" stroke-width="1.4"/>
<rect x="441.35" y="924.65" width="18.60" height="56.90" fill="#1580f8" stroke="#0308fc" stroke-width="2.1"/>
<line x1="506.85" y1="971.30" x2="506.85" y2="974.10" stroke="#111" stroke-width="1.4"/>
<line x1="501.25" y1="971.30" x2="512.45" y2="971.30" stroke="#111" stroke-width="1.4"/>
<rect x="497.35" y="973.75" width="19.00" height="7.80" fill="#1580f8" stroke="#0308fc" stroke-width="2.1"/>
<line x1="534.75" y1="848.40" x2="534.75" y2="861.70" stroke="#111" stroke-width="1.4"/>
<line x1="529.15" y1="848.40" x2="540.35" y2="848.40" stroke="#111" stroke-width="1.4"/>
<rect x="525.45" y="861.35" width="18.60" height="120.20" fill="#1580f8" stroke="#0308fc" stroke-width="2.1"/>
<line x1="590.30" y1="973.80" x2="590.30" y2="976.10" stroke="#111" stroke-width="1.4"/>
<line x1="584.70" y1="973.80" x2="595.90" y2="973.80" stroke="#111" stroke-width="1.4"/>
<rect x="580.55" y="975.75" width="19.50" height="5.80" fill="#1580f8" stroke="#0308fc" stroke-width="2.1"/>
<line x1="618.40" y1="883.80" x2="618.40" y2="889.00" stroke="#111" stroke-width="1.4"/>
<line x1="612.80" y1="883.80" x2="624.00" y2="883.80" stroke="#111" stroke-width="1.4"/>
<rect x="608.85" y="888.65" width="19.10" height="92.90" fill="#1580f8" stroke="#0308fc" stroke-width="2.1"/>
<line x1="404.30" y1="827.50" x2="404.30" y2="983.70" stroke="#111" stroke-width="2.2"/>
<line x1="398.20" y1="982.60" x2="636.60" y2="982.60" stroke="#111" stroke-width="2.2"/>
<line x1="398.80" y1="982.60" x2="404.30" y2="982.60" stroke="#111" stroke-width="2.1"/>
<text x="397.70" y="986.97" font-size="10.8" text-anchor="end" font-weight="bold" font-family='"Liberation Serif", serif' fill="#111" stroke="#111" stroke-width="0.35">0.0</text>
<line x1="398.80" y1="951.80" x2="404.30" y2="951.80" stroke="#111" stroke-width="2.1"/>
<text x="397.70" y="956.17" font-size="10.8" text-anchor="end" font-weight="bold" font-family='"Liberation Serif", serif' fill="#111" stroke="#111" stroke-width="0.35">0.2</text>
<line x1="398.80" y1="921.00" x2="404.30" y2="921.00" stroke="#111" stroke-width="2.1"/>
<text x="397.70" y="925.37" font-size="10.8" text-anchor="end" font-weight="bold" font-family='"Liberation Serif", serif' fill="#111" stroke="#111" stroke-width="0.35">0.4</text>
<line x1="398.80" y1="890.20" x2="404.30" y2="890.20" stroke="#111" stroke-width="2.1"/>
<text x="397.70" y="894.57" font-size="10.8" text-anchor="end" font-weight="bold" font-family='"Liberation Serif", serif' fill="#111" stroke="#111" stroke-width="0.35">0.6</text>
<line x1="398.80" y1="859.40" x2="404.30" y2="859.40" stroke="#111" stroke-width="2.1"/>
<text x="397.70" y="863.77" font-size="10.8" text-anchor="end" font-weight="bold" font-family='"Liberation Serif", serif' fill="#111" stroke="#111" stroke-width="0.35">0.8</text>
<line x1="398.80" y1="828.60" x2="404.30" y2="828.60" stroke="#111" stroke-width="2.1"/>
<text x="397.70" y="832.97" font-size="10.8" text-anchor="end" font-weight="bold" font-family='"Liberation Serif", serif' fill="#111" stroke="#111" stroke-width="0.35">1.0</text>
<text x="375.85" y="903.50" font-size="10.2" text-anchor="middle" font-weight="bold" font-family='"Liberation Sans", sans-serif' fill="#111" transform="rotate(-90 375.85159999999996 903.5)" textLength="80.6" lengthAdjust="spacingAndGlyphs" stroke="#111" stroke-width="0.35">Input Chip (%)</text>
<text x="426.70" y="995.20" font-size="11.9" text-anchor="end" font-weight="bold" font-family='"Liberation Sans", sans-serif' fill="#111" transform="rotate(-45 426.7 995.2)" stroke="#111" stroke-width="0.35">IgG set1</text>
<text x="452.60" y="995.20" font-size="11.9" text-anchor="end" font-weight="bold" font-family='"Liberation Sans", sans-serif' fill="#111" transform="rotate(-45 452.6 995.2)" stroke="#111" stroke-width="0.35">TET2 set1</text>
<text x="511.80" y="995.20" font-size="11.9" text-anchor="end" font-weight="bold" font-family='"Liberation Sans", sans-serif' fill="#111" transform="rotate(-45 511.8 995.2)" stroke="#111" stroke-width="0.35">IgG set2</text>
<text x="539.70" y="995.20" font-size="11.9" text-anchor="end" font-weight="bold" font-family='"Liberation Sans", sans-serif' fill="#111" transform="rotate(-45 539.6999999999999 995.2)" stroke="#111" stroke-width="0.35">TET2 set2</text>
<text x="595.80" y="995.20" font-size="11.9" text-anchor="end" font-weight="bold" font-family='"Liberation Sans", sans-serif' fill="#111" transform="rotate(-45 595.8 995.2)" stroke="#111" stroke-width="0.35">IgG set3</text>
<text x="619.80" y="995.20" font-size="11.9" text-anchor="end" font-weight="bold" font-family='"Liberation Sans", sans-serif' fill="#111" transform="rotate(-45 619.8 995.2)" stroke="#111" stroke-width="0.35">TET2 set3</text>
<text x="19.60" y="1049.79" font-size="14.5" text-anchor="start" font-weight="bold" font-family='"Liberation Sans", sans-serif' fill="#111" stroke="#111" stroke-width="0.35">I</text>
<text x="192.30" y="1066.62" font-size="10.4" text-anchor="middle" font-weight="bold" font-family='"Liberation Sans", sans-serif' fill="#111" textLength="54.6" lengthAdjust="spacingAndGlyphs" stroke="#111" stroke-width="0.35">SMMC-7721</text>
<polyline points="95.50,1229.76 123.30,1228.02 151.10,1221.04 178.90,1215.81 206.70,1205.34 234.50,1197.50 262.30,1187.03 290.10,1175.70" fill="none" stroke="#f41414" stroke-width="2.6" stroke-linejoin="round"/>
<polyline points="95.50,1229.76 123.30,1225.84 151.10,1219.30 178.90,1203.60 206.70,1195.75 234.50,1180.93 262.30,1158.52 290.10,1117.27" fill="none" stroke="#8418f4" stroke-width="2.6" stroke-linejoin="round"/>
<polyline points="95.50,1230.63 123.30,1227.58 151.10,1221.04 178.90,1210.58 206.70,1201.86 234.50,1189.65 262.30,1175.70 290.10,1146.92" fill="none" stroke="#44f244" stroke-width="2.6" stroke-linejoin="round"/>
<line x1="95.50" y1="1228.02" x2="95.50" y2="1231.50" stroke="#f41414" stroke-width="1.6"/>
<line x1="91.90" y1="1228.02" x2="99.10" y2="1228.02" stroke="#f41414" stroke-width="1.6"/>
<line x1="91.90" y1="1231.50" x2="99.10" y2="1231.50" stroke="#f41414" stroke-width="1.6"/>
<path d="M95.50,1226.42 L98.69,1232.22 L92.31,1232.22 Z" fill="#f41414"/>
<line x1="123.30" y1="1225.84" x2="123.30" y2="1230.20" stroke="#f41414" stroke-width="1.6"/>
<line x1="119.70" y1="1225.84" x2="126.90" y2="1225.84" stroke="#f41414" stroke-width="1.6"/>
<line x1="119.70" y1="1230.20" x2="126.90" y2="1230.20" stroke="#f41414" stroke-width="1.6"/>
<path d="M123.30,1224.68 L126.49,1230.48 L120.11,1230.48 Z" fill="#f41414"/>
<line x1="151.10" y1="1217.99" x2="151.10" y2="1224.09" stroke="#f41414" stroke-width="1.6"/>
<line x1="147.50" y1="1217.99" x2="154.70" y2="1217.99" stroke="#f41414" stroke-width="1.6"/>
<line x1="147.50" y1="1224.09" x2="154.70" y2="1224.09" stroke="#f41414" stroke-width="1.6"/>
<path d="M151.10,1217.70 L154.29,1223.50 L147.91,1223.50 Z" fill="#f41414"/>
<line x1="178.90" y1="1212.76" x2="178.90" y2="1218.86" stroke="#f41414" stroke-width="1.6"/>
<line x1="175.30" y1="1212.76" x2="182.50" y2="1212.76" stroke="#f41414" stroke-width="1.6"/>
<line x1="175.30" y1="1218.86" x2="182.50" y2="1218.86" stroke="#f41414" stroke-width="1.6"/>
<path d="M178.90,1212.47 L182.09,1218.27 L175.71,1218.27 Z" fill="#f41414"/>
<line x1="206.70" y1="1201.42" x2="206.70" y2="1209.27" stroke="#f41414" stroke-width="1.6"/>
<line x1="203.10" y1="1201.42" x2="210.30" y2="1201.42" stroke="#f41414" stroke-width="1.6"/>
<line x1="203.10" y1="1209.27" x2="210.30" y2="1209.27" stroke="#f41414" stroke-width="1.6"/>
<path d="M206.70,1202.01 L209.89,1207.81 L203.51,1207.81 Z" fill="#f41414"/>
<line x1="234.50" y1="1194.01" x2="234.50" y2="1200.98" stroke="#f41414" stroke-width="1.6"/>
<line x1="230.90" y1="1194.01" x2="238.10" y2="1194.01" stroke="#f41414" stroke-width="1.6"/>
<line x1="230.90" y1="1200.98" x2="238.10" y2="1200.98" stroke="#f41414" stroke-width="1.6"/>
<path d="M234.50,1194.16 L237.69,1199.96 L231.31,1199.96 Z" fill="#f41414"/>
<line x1="262.30" y1="1182.67" x2="262.30" y2="1191.39" stroke="#f41414" stroke-width="1.6"/>
<line x1="258.70" y1="1182.67" x2="265.90" y2="1182.67" stroke="#f41414" stroke-width="1.6"/>
<line x1="258.70" y1="1191.39" x2="265.90" y2="1191.39" stroke="#f41414" stroke-width="1.6"/>
<path d="M262.30,1183.70 L265.49,1189.50 L259.11,1189.50 Z" fill="#f41414"/>
<line x1="290.10" y1="1168.72" x2="290.10" y2="1182.67" stroke="#f41414" stroke-width="1.6"/>
<line x1="286.50" y1="1168.72" x2="293.70" y2="1168.72" stroke="#f41414" stroke-width="1.6"/>
<line x1="286.50" y1="1182.67" x2="293.70" y2="1182.67" stroke="#f41414" stroke-width="1.6"/>
<path d="M290.10,1172.36 L293.29,1178.16 L286.91,1178.16 Z" fill="#f41414"/>
<line x1="95.50" y1="1228.02" x2="95.50" y2="1231.50" stroke="#8418f4" stroke-width="1.6"/>
<line x1="91.90" y1="1228.02" x2="99.10" y2="1228.02" stroke="#8418f4" stroke-width="1.6"/>
<line x1="91.90" y1="1231.50" x2="99.10" y2="1231.50" stroke="#8418f4" stroke-width="1.6"/>
<rect x="92.60" y="1226.86" width="5.80" height="5.80" fill="#8418f4"/>
<line x1="123.30" y1="1223.66" x2="123.30" y2="1228.02" stroke="#8418f4" stroke-width="1.6"/>
<line x1="119.70" y1="1223.66" x2="126.90" y2="1223.66" stroke="#8418f4" stroke-width="1.6"/>
<line x1="119.70" y1="1228.02" x2="126.90" y2="1228.02" stroke="#8418f4" stroke-width="1.6"/>
<rect x="120.40" y="1222.94" width="5.80" height="5.80" fill="#8418f4"/>
<line x1="151.10" y1="1215.37" x2="151.10" y2="1223.22" stroke="#8418f4" stroke-width="1.6"/>
<line x1="147.50" y1="1215.37" x2="154.70" y2="1215.37" stroke="#8418f4" stroke-width="1.6"/>
<line x1="147.50" y1="1223.22" x2="154.70" y2="1223.22" stroke="#8418f4" stroke-width="1.6"/>
<rect x="148.20" y="1216.40" width="5.80" height="5.80" fill="#8418f4"/>
<line x1="178.90" y1="1199.68" x2="178.90" y2="1207.52" stroke="#8418f4" stroke-width="1.6"/>
<line x1="175.30" y1="1199.68" x2="182.50" y2="1199.68" stroke="#8418f4" stroke-width="1.6"/>
<line x1="175.30" y1="1207.52" x2="182.50" y2="1207.52" stroke="#8418f4" stroke-width="1.6"/>
<rect x="176.00" y="1200.70" width="5.80" height="5.80" fill="#8418f4"/>
<line x1="206.70" y1="1191.39" x2="206.70" y2="1200.11" stroke="#8418f4" stroke-width="1.6"/>
<line x1="203.10" y1="1191.39" x2="210.30" y2="1191.39" stroke="#8418f4" stroke-width="1.6"/>
<line x1="203.10" y1="1200.11" x2="210.30" y2="1200.11" stroke="#8418f4" stroke-width="1.6"/>
<rect x="203.80" y="1192.85" width="5.80" height="5.80" fill="#8418f4"/>
<line x1="234.50" y1="1175.70" x2="234.50" y2="1186.16" stroke="#8418f4" stroke-width="1.6"/>
<line x1="230.90" y1="1175.70" x2="238.10" y2="1175.70" stroke="#8418f4" stroke-width="1.6"/>
<line x1="230.90" y1="1186.16" x2="238.10" y2="1186.16" stroke="#8418f4" stroke-width="1.6"/>
<rect x="231.60" y="1178.03" width="5.80" height="5.80" fill="#8418f4"/>
<line x1="262.30" y1="1153.29" x2="262.30" y2="1163.75" stroke="#8418f4" stroke-width="1.6"/>
<line x1="258.70" y1="1153.29" x2="265.90" y2="1153.29" stroke="#8418f4" stroke-width="1.6"/>
<line x1="258.70" y1="1163.75" x2="265.90" y2="1163.75" stroke="#8418f4" stroke-width="1.6"/>
<rect x="259.40" y="1155.62" width="5.80" height="5.80" fill="#8418f4"/>
<line x1="290.10" y1="1109.42" x2="290.10" y2="1125.12" stroke="#8418f4" stroke-width="1.6"/>
<line x1="286.50" y1="1109.42" x2="293.70" y2="1109.42" stroke="#8418f4" stroke-width="1.6"/>
<line x1="286.50" y1="1125.12" x2="293.70" y2="1125.12" stroke="#8418f4" stroke-width="1.6"/>
<rect x="287.20" y="1114.37" width="5.80" height="5.80" fill="#8418f4"/>
<line x1="95.50" y1="1228.89" x2="95.50" y2="1232.38" stroke="#44f244" stroke-width="1.6"/>
<line x1="91.90" y1="1228.89" x2="99.10" y2="1228.89" stroke="#44f244" stroke-width="1.6"/>
<line x1="91.90" y1="1232.38" x2="99.10" y2="1232.38" stroke="#44f244" stroke-width="1.6"/>
<circle cx="95.50" cy="1230.63" r="2.90" fill="#44f244"/>
<line x1="123.30" y1="1225.40" x2="123.30" y2="1229.76" stroke="#44f244" stroke-width="1.6"/>
<line x1="119.70" y1="1225.40" x2="126.90" y2="1225.40" stroke="#44f244" stroke-width="1.6"/>
<line x1="119.70" y1="1229.76" x2="126.90" y2="1229.76" stroke="#44f244" stroke-width="1.6"/>
<circle cx="123.30" cy="1227.58" r="2.90" fill="#44f244"/>
<line x1="151.10" y1="1217.12" x2="151.10" y2="1224.96" stroke="#44f244" stroke-width="1.6"/>
<line x1="147.50" y1="1217.12" x2="154.70" y2="1217.12" stroke="#44f244" stroke-width="1.6"/>
<line x1="147.50" y1="1224.96" x2="154.70" y2="1224.96" stroke="#44f244" stroke-width="1.6"/>
<circle cx="151.10" cy="1221.04" r="2.90" fill="#44f244"/>
<line x1="178.90" y1="1206.22" x2="178.90" y2="1214.94" stroke="#44f244" stroke-width="1.6"/>
<line x1="175.30" y1="1206.22" x2="182.50" y2="1206.22" stroke="#44f244" stroke-width="1.6"/>
<line x1="175.30" y1="1214.94" x2="182.50" y2="1214.94" stroke="#44f244" stroke-width="1.6"/>
<circle cx="178.90" cy="1210.58" r="2.90" fill="#44f244"/>
<line x1="206.70" y1="1197.50" x2="206.70" y2="1206.22" stroke="#44f244" stroke-width="1.6"/>
<line x1="203.10" y1="1197.50" x2="210.30" y2="1197.50" stroke="#44f244" stroke-width="1.6"/>
<line x1="203.10" y1="1206.22" x2="210.30" y2="1206.22" stroke="#44f244" stroke-width="1.6"/>
<circle cx="206.70" cy="1201.86" r="2.90" fill="#44f244"/>
<line x1="234.50" y1="1185.29" x2="234.50" y2="1194.01" stroke="#44f244" stroke-width="1.6"/>
<line x1="230.90" y1="1185.29" x2="238.10" y2="1185.29" stroke="#44f244" stroke-width="1.6"/>
<line x1="230.90" y1="1194.01" x2="238.10" y2="1194.01" stroke="#44f244" stroke-width="1.6"/>
<circle cx="234.50" cy="1189.65" r="2.90" fill="#44f244"/>
<line x1="262.30" y1="1170.46" x2="262.30" y2="1180.93" stroke="#44f244" stroke-width="1.6"/>
<line x1="258.70" y1="1170.46" x2="265.90" y2="1170.46" stroke="#44f244" stroke-width="1.6"/>
<line x1="258.70" y1="1180.93" x2="265.90" y2="1180.93" stroke="#44f244" stroke-width="1.6"/>
<circle cx="262.30" cy="1175.70" r="2.90" fill="#44f244"/>
<line x1="290.10" y1="1139.07" x2="290.10" y2="1154.77" stroke="#44f244" stroke-width="1.6"/>
<line x1="286.50" y1="1139.07" x2="293.70" y2="1139.07" stroke="#44f244" stroke-width="1.6"/>
<line x1="286.50" y1="1154.77" x2="293.70" y2="1154.77" stroke="#44f244" stroke-width="1.6"/>
<circle cx="290.10" cy="1146.92" r="2.90" fill="#44f244"/>
<line x1="81.60" y1="1090.30" x2="81.60" y2="1248.25" stroke="#111" stroke-width="2.1"/>
<line x1="80.55" y1="1247.20" x2="304.00" y2="1247.20" stroke="#111" stroke-width="2.1"/>
<line x1="76.80" y1="1247.20" x2="81.60" y2="1247.20" stroke="#111" stroke-width="2.1"/>
<text x="75.60" y="1251.07" font-size="10.8" text-anchor="end" font-weight="bold" font-family='"Liberation Sans", sans-serif' fill="#111" stroke="#111" stroke-width="0.1">0.0</text>
<line x1="76.80" y1="1203.60" x2="81.60" y2="1203.60" stroke="#111" stroke-width="2.1"/>
<text x="75.60" y="1207.47" font-size="10.8" text-anchor="end" font-weight="bold" font-family='"Liberation Sans", sans-serif' fill="#111" stroke="#111" stroke-width="0.1">0.5</text>
<line x1="76.80" y1="1160.00" x2="81.60" y2="1160.00" stroke="#111" stroke-width="2.1"/>
<text x="75.60" y="1163.87" font-size="10.8" text-anchor="end" font-weight="bold" font-family='"Liberation Sans", sans-serif' fill="#111" stroke="#111" stroke-width="0.1">1.0</text>
<line x1="76.80" y1="1116.40" x2="81.60" y2="1116.40" stroke="#111" stroke-width="2.1"/>
<text x="75.60" y="1120.27" font-size="10.8" text-anchor="end" font-weight="bold" font-family='"Liberation Sans", sans-serif' fill="#111" stroke="#111" stroke-width="0.1">1.5</text>
<line x1="81.60" y1="1247.20" x2="81.60" y2="1252.00" stroke="#111" stroke-width="2.1"/>
<text x="81.60" y="1263.47" font-size="10.8" text-anchor="middle" font-weight="bold" font-family='"Liberation Sans", sans-serif' fill="#111" stroke="#111" stroke-width="0.1">0</text>
<line x1="109.40" y1="1247.20" x2="109.40" y2="1252.00" stroke="#111" stroke-width="2.1"/>
<text x="109.40" y="1263.47" font-size="10.8" text-anchor="middle" font-weight="bold" font-family='"Liberation Sans", sans-serif' fill="#111" stroke="#111" stroke-width="0.1">1</text>
<line x1="137.20" y1="1247.20" x2="137.20" y2="1252.00" stroke="#111" stroke-width="2.1"/>
<text x="137.20" y="1263.47" font-size="10.8" text-anchor="middle" font-weight="bold" font-family='"Liberation Sans", sans-serif' fill="#111" stroke="#111" stroke-width="0.1">2</text>
<line x1="165.00" y1="1247.20" x2="165.00" y2="1252.00" stroke="#111" stroke-width="2.1"/>
<text x="165.00" y="1263.47" font-size="10.8" text-anchor="middle" font-weight="bold" font-family='"Liberation Sans", sans-serif' fill="#111" stroke="#111" stroke-width="0.1">3</text>
<line x1="192.80" y1="1247.20" x2="192.80" y2="1252.00" stroke="#111" stroke-width="2.1"/>
<text x="192.80" y="1263.47" font-size="10.8" text-anchor="middle" font-weight="bold" font-family='"Liberation Sans", sans-serif' fill="#111" stroke="#111" stroke-width="0.1">4</text>
<line x1="220.60" y1="1247.20" x2="220.60" y2="1252.00" stroke="#111" stroke-width="2.1"/>
<text x="220.60" y="1263.47" font-size="10.8" text-anchor="middle" font-weight="bold" font-family='"Liberation Sans", sans-serif' fill="#111" stroke="#111" stroke-width="0.1">5</text>
<line x1="248.40" y1="1247.20" x2="248.40" y2="1252.00" stroke="#111" stroke-width="2.1"/>
<text x="248.40" y="1263.47" font-size="10.8" text-anchor="middle" font-weight="bold" font-family='"Liberation Sans", sans-serif' fill="#111" stroke="#111" stroke-width="0.1">6</text>
<line x1="276.20" y1="1247.20" x2="276.20" y2="1252.00" stroke="#111" stroke-width="2.1"/>
<text x="276.20" y="1263.47" font-size="10.8" text-anchor="middle" font-weight="bold" font-family='"Liberation Sans", sans-serif' fill="#111" stroke="#111" stroke-width="0.1">7</text>
<line x1="304.00" y1="1247.20" x2="304.00" y2="1252.00" stroke="#111" stroke-width="2.1"/>
<text x="304.00" y="1263.47" font-size="10.8" text-anchor="middle" font-weight="bold" font-family='"Liberation Sans", sans-serif' fill="#111" stroke="#111" stroke-width="0.1">8</text>
<text x="52.78" y="1169.00" font-size="10" text-anchor="middle" font-weight="bold" font-family='"Liberation Sans", sans-serif' fill="#111" transform="rotate(-90 52.78 1169.0)" textLength="120" lengthAdjust="spacingAndGlyphs" stroke="#111" stroke-width="0.35">Cell viability (OD 450nm)</text>
<text x="192.50" y="1279.58" font-size="10" text-anchor="middle" font-weight="bold" font-family='"Liberation Sans", sans-serif' fill="#111" stroke="#111" stroke-width="0.35">Days</text>
<line x1="100.80" y1="1090.60" x2="118.20" y2="1090.60" stroke="#44f244" stroke-width="2.8"/>
<circle cx="109.50" cy="1090.60" r="2.90" fill="#44f244"/>
<text x="127.10" y="1094.29" font-size="10.3" text-anchor="start" font-weight="bold" font-family='"Liberation Sans", sans-serif' fill="#1a1a1a" textLength="97.5" lengthAdjust="spacingAndGlyphs" stroke="#1a1a1a" stroke-width="0.35">FGFR3 (WT) + DMSO</text>
<line x1="100.80" y1="1114.40" x2="118.20" y2="1114.40" stroke="#8418f4" stroke-width="2.8"/>
<rect x="106.60" y="1111.50" width="5.80" height="5.80" fill="#8418f4"/>
<text x="127.10" y="1118.09" font-size="10.3" text-anchor="start" font-weight="bold" font-family='"Liberation Sans", sans-serif' fill="#1a1a1a" textLength="97.2" lengthAdjust="spacingAndGlyphs" stroke="#1a1a1a" stroke-width="0.35">FGFR3△7-9 + DMSO</text>
<line x1="100.80" y1="1136.10" x2="118.20" y2="1136.10" stroke="#f41414" stroke-width="2.8"/>
<path d="M109.50,1132.76 L112.69,1138.56 L106.31,1138.56 Z" fill="#f41414"/>
<text x="127.10" y="1139.79" font-size="10.3" text-anchor="start" font-weight="bold" font-family='"Liberation Sans", sans-serif' fill="#1a1a1a" textLength="112" lengthAdjust="spacingAndGlyphs" stroke="#1a1a1a" stroke-width="0.35">FGFR3△7-9 + LY294002</text>
<polyline points="301.00,1118.10 306.20,1118.10 306.20,1147.50 301.00,1147.50" fill="none" stroke="#111" stroke-width="1.5"/>
<polyline points="321.70,1116.40 330.50,1116.40 330.50,1175.00 325.60,1175.00" fill="none" stroke="#111" stroke-width="1.5"/>
<text x="309.08" y="1136.60" font-size="9" text-anchor="middle" font-weight="bold" font-family='"Liberation Sans", sans-serif' fill="#222" transform="rotate(90 309.07800000000003 1136.6)" stroke="#222" stroke-width="0.35">**</text>
<text x="333.98" y="1141.80" font-size="9" text-anchor="middle" font-weight="bold" font-family='"Liberation Sans", sans-serif' fill="#222" transform="rotate(90 333.978 1141.8)" stroke="#222" stroke-width="0.35">**</text>
<text x="509.50" y="1066.82" font-size="10.4" text-anchor="middle" font-weight="bold" font-family='"Liberation Sans", sans-serif' fill="#111" textLength="31.1" lengthAdjust="spacingAndGlyphs" stroke="#111" stroke-width="0.35">HepG2</text>
<polyline points="411.85,1228.89 439.75,1225.40 467.65,1221.04 495.55,1212.32 523.45,1204.47 551.35,1197.50 579.25,1186.16 607.15,1172.64" fill="none" stroke="#f41414" stroke-width="2.6" stroke-linejoin="round"/>
<polyline points="411.85,1228.02 439.75,1223.66 467.65,1217.55 495.55,1200.11 523.45,1187.03 551.35,1172.21 579.25,1149.54 607.15,1124.25" fill="none" stroke="#8418f4" stroke-width="2.6" stroke-linejoin="round"/>
<polyline points="411.85,1228.89 439.75,1225.40 467.65,1219.30 495.55,1206.22 523.45,1193.57 551.35,1180.06 579.25,1169.59 607.15,1148.66" fill="none" stroke="#44f244" stroke-width="2.6" stroke-linejoin="round"/>
<line x1="411.85" y1="1227.14" x2="411.85" y2="1230.63" stroke="#f41414" stroke-width="1.6"/>
<line x1="408.25" y1="1227.14" x2="415.45" y2="1227.14" stroke="#f41414" stroke-width="1.6"/>
<line x1="408.25" y1="1230.63" x2="415.45" y2="1230.63" stroke="#f41414" stroke-width="1.6"/>
<path d="M411.85,1225.55 L415.04,1231.35 L408.66,1231.35 Z" fill="#f41414"/>
<line x1="439.75" y1="1223.22" x2="439.75" y2="1227.58" stroke="#f41414" stroke-width="1.6"/>
<line x1="436.15" y1="1223.22" x2="443.35" y2="1223.22" stroke="#f41414" stroke-width="1.6"/>
<line x1="436.15" y1="1227.58" x2="443.35" y2="1227.58" stroke="#f41414" stroke-width="1.6"/>
<path d="M439.75,1222.07 L442.94,1227.87 L436.56,1227.87 Z" fill="#f41414"/>
<line x1="467.65" y1="1217.99" x2="467.65" y2="1224.09" stroke="#f41414" stroke-width="1.6"/>
<line x1="464.05" y1="1217.99" x2="471.25" y2="1217.99" stroke="#f41414" stroke-width="1.6"/>
<line x1="464.05" y1="1224.09" x2="471.25" y2="1224.09" stroke="#f41414" stroke-width="1.6"/>
<path d="M467.65,1217.70 L470.84,1223.50 L464.46,1223.50 Z" fill="#f41414"/>
<line x1="495.55" y1="1209.27" x2="495.55" y2="1215.37" stroke="#f41414" stroke-width="1.6"/>
<line x1="491.95" y1="1209.27" x2="499.15" y2="1209.27" stroke="#f41414" stroke-width="1.6"/>
<line x1="491.95" y1="1215.37" x2="499.15" y2="1215.37" stroke="#f41414" stroke-width="1.6"/>
<path d="M495.55,1208.98 L498.74,1214.78 L492.36,1214.78 Z" fill="#f41414"/>
<line x1="523.45" y1="1200.55" x2="523.45" y2="1208.40" stroke="#f41414" stroke-width="1.6"/>
<line x1="519.85" y1="1200.55" x2="527.05" y2="1200.55" stroke="#f41414" stroke-width="1.6"/>
<line x1="519.85" y1="1208.40" x2="527.05" y2="1208.40" stroke="#f41414" stroke-width="1.6"/>
<path d="M523.45,1201.14 L526.64,1206.94 L520.26,1206.94 Z" fill="#f41414"/>
<line x1="551.35" y1="1193.14" x2="551.35" y2="1201.86" stroke="#f41414" stroke-width="1.6"/>
<line x1="547.75" y1="1193.14" x2="554.95" y2="1193.14" stroke="#f41414" stroke-width="1.6"/>
<line x1="547.75" y1="1201.86" x2="554.95" y2="1201.86" stroke="#f41414" stroke-width="1.6"/>
<path d="M551.35,1194.16 L554.54,1199.96 L548.16,1199.96 Z" fill="#f41414"/>
<line x1="579.25" y1="1181.36" x2="579.25" y2="1190.96" stroke="#f41414" stroke-width="1.6"/>
<line x1="575.65" y1="1181.36" x2="582.85" y2="1181.36" stroke="#f41414" stroke-width="1.6"/>
<line x1="575.65" y1="1190.96" x2="582.85" y2="1190.96" stroke="#f41414" stroke-width="1.6"/>
<path d="M579.25,1182.83 L582.44,1188.62 L576.06,1188.62 Z" fill="#f41414"/>
<line x1="607.15" y1="1166.37" x2="607.15" y2="1178.92" stroke="#f41414" stroke-width="1.6"/>
<line x1="603.55" y1="1166.37" x2="610.75" y2="1166.37" stroke="#f41414" stroke-width="1.6"/>
<line x1="603.55" y1="1178.92" x2="610.75" y2="1178.92" stroke="#f41414" stroke-width="1.6"/>
<path d="M607.15,1169.31 L610.34,1175.11 L603.96,1175.11 Z" fill="#f41414"/>
<line x1="411.85" y1="1226.27" x2="411.85" y2="1229.76" stroke="#8418f4" stroke-width="1.6"/>
<line x1="408.25" y1="1226.27" x2="415.45" y2="1226.27" stroke="#8418f4" stroke-width="1.6"/>
<line x1="408.25" y1="1229.76" x2="415.45" y2="1229.76" stroke="#8418f4" stroke-width="1.6"/>
<rect x="408.95" y="1225.12" width="5.80" height="5.80" fill="#8418f4"/>
<line x1="439.75" y1="1221.48" x2="439.75" y2="1225.84" stroke="#8418f4" stroke-width="1.6"/>
<line x1="436.15" y1="1221.48" x2="443.35" y2="1221.48" stroke="#8418f4" stroke-width="1.6"/>
<line x1="436.15" y1="1225.84" x2="443.35" y2="1225.84" stroke="#8418f4" stroke-width="1.6"/>
<rect x="436.85" y="1220.76" width="5.80" height="5.80" fill="#8418f4"/>
<line x1="467.65" y1="1214.06" x2="467.65" y2="1221.04" stroke="#8418f4" stroke-width="1.6"/>
<line x1="464.05" y1="1214.06" x2="471.25" y2="1214.06" stroke="#8418f4" stroke-width="1.6"/>
<line x1="464.05" y1="1221.04" x2="471.25" y2="1221.04" stroke="#8418f4" stroke-width="1.6"/>
<rect x="464.75" y="1214.65" width="5.80" height="5.80" fill="#8418f4"/>
<line x1="495.55" y1="1196.19" x2="495.55" y2="1204.04" stroke="#8418f4" stroke-width="1.6"/>
<line x1="491.95" y1="1196.19" x2="499.15" y2="1196.19" stroke="#8418f4" stroke-width="1.6"/>
<line x1="491.95" y1="1204.04" x2="499.15" y2="1204.04" stroke="#8418f4" stroke-width="1.6"/>
<rect x="492.65" y="1197.21" width="5.80" height="5.80" fill="#8418f4"/>
<line x1="523.45" y1="1182.67" x2="523.45" y2="1191.39" stroke="#8418f4" stroke-width="1.6"/>
<line x1="519.85" y1="1182.67" x2="527.05" y2="1182.67" stroke="#8418f4" stroke-width="1.6"/>
<line x1="519.85" y1="1191.39" x2="527.05" y2="1191.39" stroke="#8418f4" stroke-width="1.6"/>
<rect x="520.55" y="1184.13" width="5.80" height="5.80" fill="#8418f4"/>
<line x1="551.35" y1="1167.85" x2="551.35" y2="1176.57" stroke="#8418f4" stroke-width="1.6"/>
<line x1="547.75" y1="1167.85" x2="554.95" y2="1167.85" stroke="#8418f4" stroke-width="1.6"/>
<line x1="547.75" y1="1176.57" x2="554.95" y2="1176.57" stroke="#8418f4" stroke-width="1.6"/>
<rect x="548.45" y="1169.31" width="5.80" height="5.80" fill="#8418f4"/>
<line x1="579.25" y1="1143.87" x2="579.25" y2="1155.20" stroke="#8418f4" stroke-width="1.6"/>
<line x1="575.65" y1="1143.87" x2="582.85" y2="1143.87" stroke="#8418f4" stroke-width="1.6"/>
<line x1="575.65" y1="1155.20" x2="582.85" y2="1155.20" stroke="#8418f4" stroke-width="1.6"/>
<rect x="576.35" y="1146.64" width="5.80" height="5.80" fill="#8418f4"/>
<line x1="607.15" y1="1117.01" x2="607.15" y2="1131.49" stroke="#8418f4" stroke-width="1.6"/>
<line x1="603.55" y1="1117.01" x2="610.75" y2="1117.01" stroke="#8418f4" stroke-width="1.6"/>
<line x1="603.55" y1="1131.49" x2="610.75" y2="1131.49" stroke="#8418f4" stroke-width="1.6"/>
<rect x="604.25" y="1121.35" width="5.80" height="5.80" fill="#8418f4"/>
<line x1="411.85" y1="1227.14" x2="411.85" y2="1230.63" stroke="#44f244" stroke-width="1.6"/>
<line x1="408.25" y1="1227.14" x2="415.45" y2="1227.14" stroke="#44f244" stroke-width="1.6"/>
<line x1="408.25" y1="1230.63" x2="415.45" y2="1230.63" stroke="#44f244" stroke-width="1.6"/>
<circle cx="411.85" cy="1228.89" r="2.90" fill="#44f244"/>
<line x1="439.75" y1="1223.22" x2="439.75" y2="1227.58" stroke="#44f244" stroke-width="1.6"/>
<line x1="436.15" y1="1223.22" x2="443.35" y2="1223.22" stroke="#44f244" stroke-width="1.6"/>
<line x1="436.15" y1="1227.58" x2="443.35" y2="1227.58" stroke="#44f244" stroke-width="1.6"/>
<circle cx="439.75" cy="1225.40" r="2.90" fill="#44f244"/>
<line x1="467.65" y1="1215.81" x2="467.65" y2="1222.78" stroke="#44f244" stroke-width="1.6"/>
<line x1="464.05" y1="1215.81" x2="471.25" y2="1215.81" stroke="#44f244" stroke-width="1.6"/>
<line x1="464.05" y1="1222.78" x2="471.25" y2="1222.78" stroke="#44f244" stroke-width="1.6"/>
<circle cx="467.65" cy="1219.30" r="2.90" fill="#44f244"/>
<line x1="495.55" y1="1202.29" x2="495.55" y2="1210.14" stroke="#44f244" stroke-width="1.6"/>
<line x1="491.95" y1="1202.29" x2="499.15" y2="1202.29" stroke="#44f244" stroke-width="1.6"/>
<line x1="491.95" y1="1210.14" x2="499.15" y2="1210.14" stroke="#44f244" stroke-width="1.6"/>
<circle cx="495.55" cy="1206.22" r="2.90" fill="#44f244"/>
<line x1="523.45" y1="1189.21" x2="523.45" y2="1197.93" stroke="#44f244" stroke-width="1.6"/>
<line x1="519.85" y1="1189.21" x2="527.05" y2="1189.21" stroke="#44f244" stroke-width="1.6"/>
<line x1="519.85" y1="1197.93" x2="527.05" y2="1197.93" stroke="#44f244" stroke-width="1.6"/>
<circle cx="523.45" cy="1193.57" r="2.90" fill="#44f244"/>
<line x1="551.35" y1="1175.70" x2="551.35" y2="1184.42" stroke="#44f244" stroke-width="1.6"/>
<line x1="547.75" y1="1175.70" x2="554.95" y2="1175.70" stroke="#44f244" stroke-width="1.6"/>
<line x1="547.75" y1="1184.42" x2="554.95" y2="1184.42" stroke="#44f244" stroke-width="1.6"/>
<circle cx="551.35" cy="1180.06" r="2.90" fill="#44f244"/>
<line x1="579.25" y1="1163.05" x2="579.25" y2="1176.13" stroke="#44f244" stroke-width="1.6"/>
<line x1="575.65" y1="1163.05" x2="582.85" y2="1163.05" stroke="#44f244" stroke-width="1.6"/>
<line x1="575.65" y1="1176.13" x2="582.85" y2="1176.13" stroke="#44f244" stroke-width="1.6"/>
<circle cx="579.25" cy="1169.59" r="2.90" fill="#44f244"/>
<line x1="607.15" y1="1140.38" x2="607.15" y2="1156.95" stroke="#44f244" stroke-width="1.6"/>
<line x1="603.55" y1="1140.38" x2="610.75" y2="1140.38" stroke="#44f244" stroke-width="1.6"/>
<line x1="603.55" y1="1156.95" x2="610.75" y2="1156.95" stroke="#44f244" stroke-width="1.6"/>
<circle cx="607.15" cy="1148.66" r="2.90" fill="#44f244"/>
<line x1="397.90" y1="1090.50" x2="397.90" y2="1248.25" stroke="#111" stroke-width="2.1"/>
<line x1="396.85" y1="1247.20" x2="620.90" y2="1247.20" stroke="#111" stroke-width="2.1"/>
<line x1="393.10" y1="1247.20" x2="397.90" y2="1247.20" stroke="#111" stroke-width="2.1"/>
<text x="391.90" y="1251.07" font-size="10.8" text-anchor="end" font-weight="bold" font-family='"Liberation Sans", sans-serif' fill="#111" stroke="#111" stroke-width="0.1">0.0</text>
<line x1="393.10" y1="1203.60" x2="397.90" y2="1203.60" stroke="#111" stroke-width="2.1"/>
<text x="391.90" y="1207.47" font-size="10.8" text-anchor="end" font-weight="bold" font-family='"Liberation Sans", sans-serif' fill="#111" stroke="#111" stroke-width="0.1">0.5</text>
<line x1="393.10" y1="1160.00" x2="397.90" y2="1160.00" stroke="#111" stroke-width="2.1"/>
<text x="391.90" y="1163.87" font-size="10.8" text-anchor="end" font-weight="bold" font-family='"Liberation Sans", sans-serif' fill="#111" stroke="#111" stroke-width="0.1">1.0</text>
<line x1="393.10" y1="1116.40" x2="397.90" y2="1116.40" stroke="#111" stroke-width="2.1"/>
<text x="391.90" y="1120.27" font-size="10.8" text-anchor="end" font-weight="bold" font-family='"Liberation Sans", sans-serif' fill="#111" stroke="#111" stroke-width="0.1">1.5</text>
<line x1="397.90" y1="1247.20" x2="397.90" y2="1252.00" stroke="#111" stroke-width="2.1"/>
<text x="397.90" y="1263.47" font-size="10.8" text-anchor="middle" font-weight="bold" font-family='"Liberation Sans", sans-serif' fill="#111" stroke="#111" stroke-width="0.1">0</text>
<line x1="425.80" y1="1247.20" x2="425.80" y2="1252.00" stroke="#111" stroke-width="2.1"/>
<text x="425.80" y="1263.47" font-size="10.8" text-anchor="middle" font-weight="bold" font-family='"Liberation Sans", sans-serif' fill="#111" stroke="#111" stroke-width="0.1">1</text>
<line x1="453.70" y1="1247.20" x2="453.70" y2="1252.00" stroke="#111" stroke-width="2.1"/>
<text x="453.70" y="1263.47" font-size="10.8" text-anchor="middle" font-weight="bold" font-family='"Liberation Sans", sans-serif' fill="#111" stroke="#111" stroke-width="0.1">2</text>
<line x1="481.60" y1="1247.20" x2="481.60" y2="1252.00" stroke="#111" stroke-width="2.1"/>
<text x="481.60" y="1263.47" font-size="10.8" text-anchor="middle" font-weight="bold" font-family='"Liberation Sans", sans-serif' fill="#111" stroke="#111" stroke-width="0.1">3</text>
<line x1="509.50" y1="1247.20" x2="509.50" y2="1252.00" stroke="#111" stroke-width="2.1"/>
<text x="509.50" y="1263.47" font-size="10.8" text-anchor="middle" font-weight="bold" font-family='"Liberation Sans", sans-serif' fill="#111" stroke="#111" stroke-width="0.1">4</text>
<line x1="537.40" y1="1247.20" x2="537.40" y2="1252.00" stroke="#111" stroke-width="2.1"/>
<text x="537.40" y="1263.47" font-size="10.8" text-anchor="middle" font-weight="bold" font-family='"Liberation Sans", sans-serif' fill="#111" stroke="#111" stroke-width="0.1">5</text>
<line x1="565.30" y1="1247.20" x2="565.30" y2="1252.00" stroke="#111" stroke-width="2.1"/>
<text x="565.30" y="1263.47" font-size="10.8" text-anchor="middle" font-weight="bold" font-family='"Liberation Sans", sans-serif' fill="#111" stroke="#111" stroke-width="0.1">6</text>
<line x1="593.20" y1="1247.20" x2="593.20" y2="1252.00" stroke="#111" stroke-width="2.1"/>
<text x="593.20" y="1263.47" font-size="10.8" text-anchor="middle" font-weight="bold" font-family='"Liberation Sans", sans-serif' fill="#111" stroke="#111" stroke-width="0.1">7</text>
<line x1="621.10" y1="1247.20" x2="621.10" y2="1252.00" stroke="#111" stroke-width="2.1"/>
<text x="621.10" y="1263.47" font-size="10.8" text-anchor="middle" font-weight="bold" font-family='"Liberation Sans", sans-serif' fill="#111" stroke="#111" stroke-width="0.1">8</text>
<text x="369.78" y="1169.00" font-size="10" text-anchor="middle" font-weight="bold" font-family='"Liberation Sans", sans-serif' fill="#111" transform="rotate(-90 369.78 1169.0)" textLength="120" lengthAdjust="spacingAndGlyphs" stroke="#111" stroke-width="0.35">Cell viability (OD 450nm)</text>
<text x="509.30" y="1279.58" font-size="10" text-anchor="middle" font-weight="bold" font-family='"Liberation Sans", sans-serif' fill="#111" stroke="#111" stroke-width="0.35">Days</text>
<line x1="415.10" y1="1094.70" x2="433.20" y2="1094.70" stroke="#44f244" stroke-width="2.8"/>
<circle cx="424.15" cy="1094.70" r="2.90" fill="#44f244"/>
<text x="441.40" y="1098.39" font-size="10.3" text-anchor="start" font-weight="bold" font-family='"Liberation Sans", sans-serif' fill="#1a1a1a" textLength="97.5" lengthAdjust="spacingAndGlyphs" stroke="#1a1a1a" stroke-width="0.35">FGFR3 (WT) + DMSO</text>
<line x1="415.10" y1="1117.50" x2="433.20" y2="1117.50" stroke="#8418f4" stroke-width="2.8"/>
<rect x="421.25" y="1114.60" width="5.80" height="5.80" fill="#8418f4"/>
<text x="441.40" y="1121.19" font-size="10.3" text-anchor="start" font-weight="bold" font-family='"Liberation Sans", sans-serif' fill="#1a1a1a" textLength="97.5" lengthAdjust="spacingAndGlyphs" stroke="#1a1a1a" stroke-width="0.35">FGFR3△7-9 + DMSO</text>
<line x1="415.10" y1="1139.80" x2="433.20" y2="1139.80" stroke="#f41414" stroke-width="2.8"/>
<path d="M424.15,1136.46 L427.34,1142.26 L420.96,1142.26 Z" fill="#f41414"/>
<text x="441.40" y="1143.49" font-size="10.3" text-anchor="start" font-weight="bold" font-family='"Liberation Sans", sans-serif' fill="#1a1a1a" textLength="112.6" lengthAdjust="spacingAndGlyphs" stroke="#1a1a1a" stroke-width="0.35">FGFR3△7-9 + LY294002</text>
<polyline points="616.20,1123.60 621.60,1123.60 621.60,1150.40 616.20,1150.40" fill="none" stroke="#111" stroke-width="1.5"/>
<polyline points="635.30,1121.80 642.00,1121.80 642.00,1175.00 635.30,1175.00" fill="none" stroke="#111" stroke-width="1.5"/>
<text x="623.18" y="1137.20" font-size="9" text-anchor="middle" font-weight="bold" font-family='"Liberation Sans", sans-serif' fill="#222" transform="rotate(90 623.178 1137.2)" stroke="#222" stroke-width="0.35">**</text>
<text x="643.18" y="1146.00" font-size="9" text-anchor="middle" font-weight="bold" font-family='"Liberation Sans", sans-serif' fill="#222" transform="rotate(90 643.178 1146.0)" stroke="#222" stroke-width="0.35">**</text>
</svg></body></html>
